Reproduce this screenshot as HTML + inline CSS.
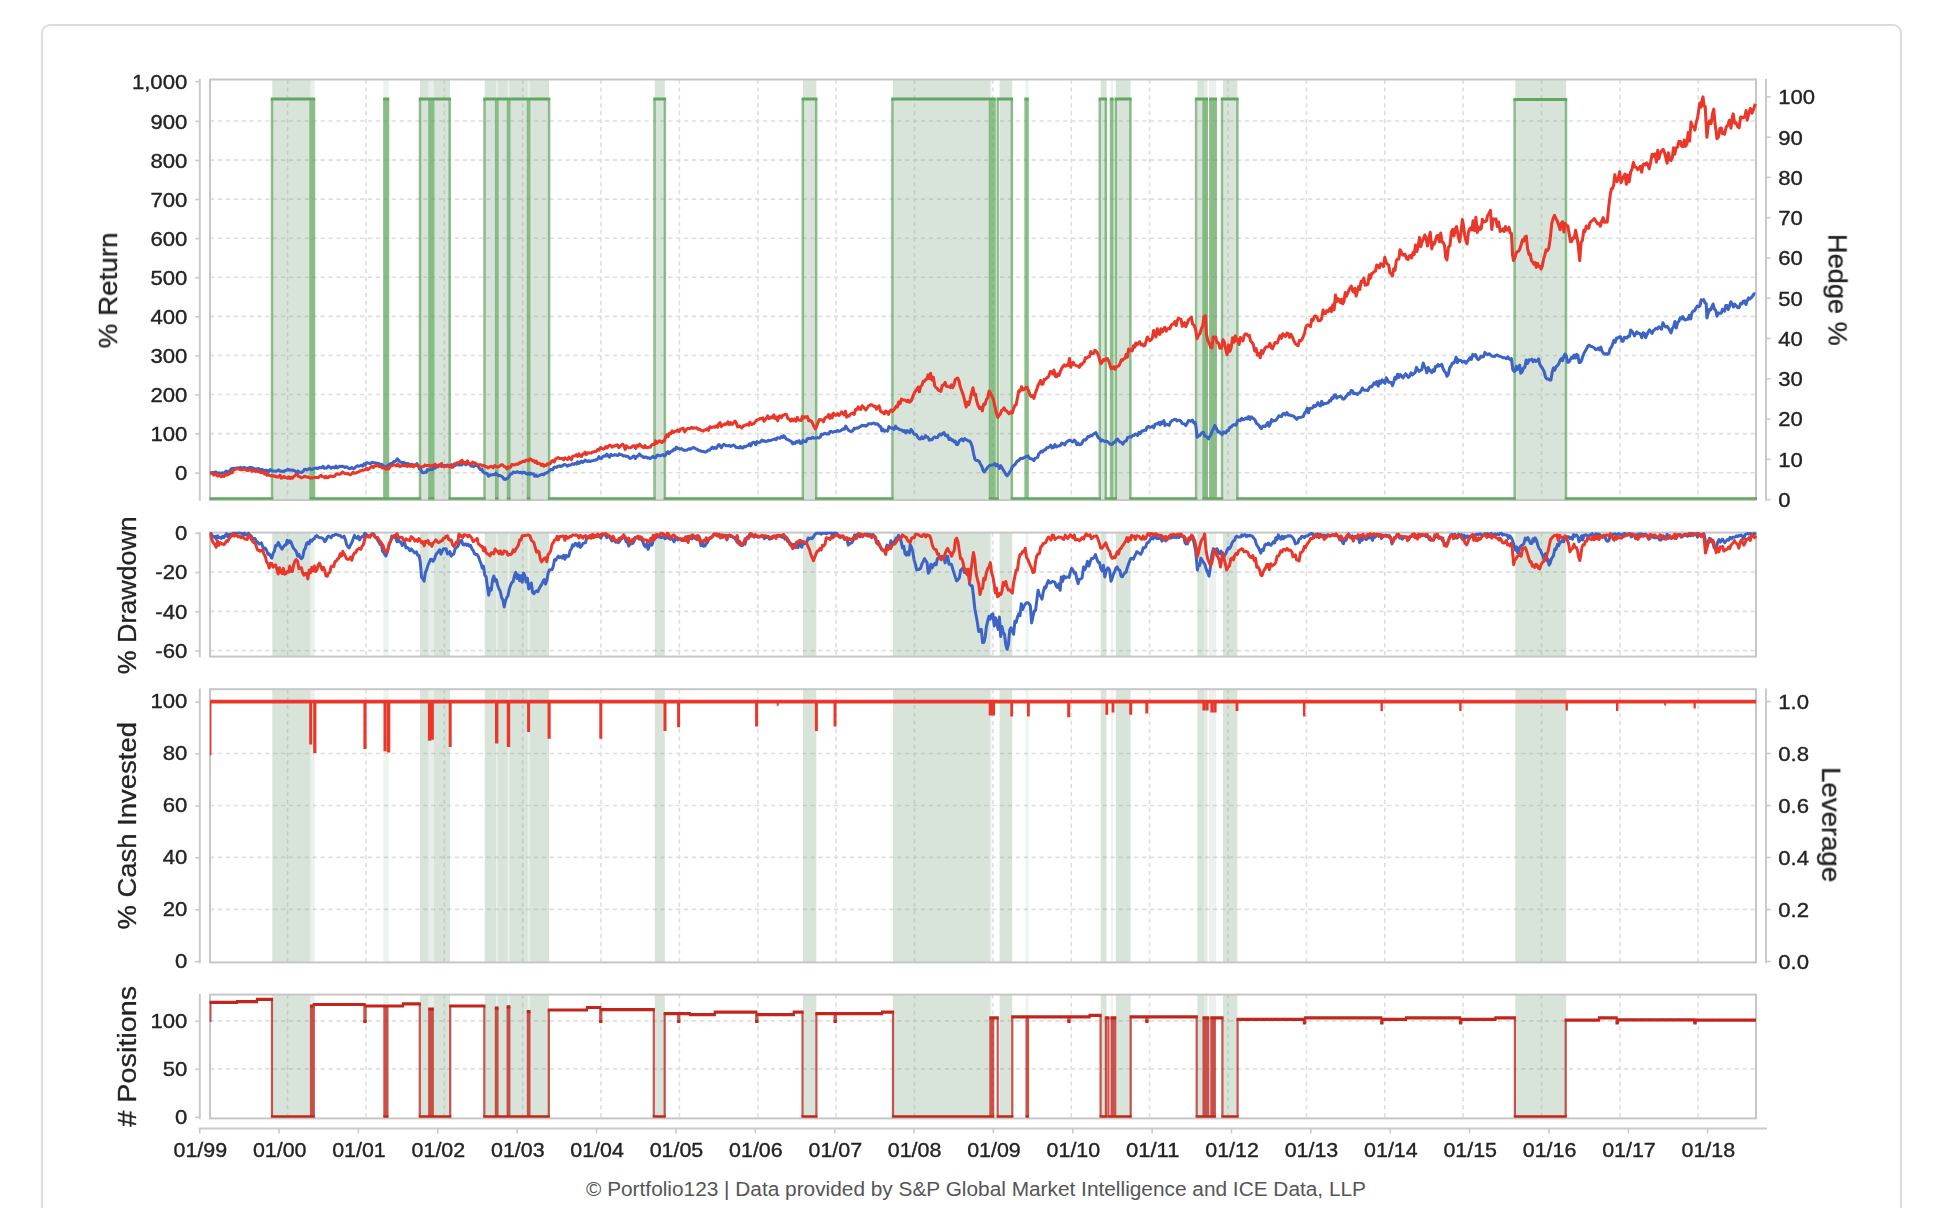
<!DOCTYPE html>
<html><head><meta charset="utf-8"><title>Portfolio123 chart</title>
<style>
html,body{margin:0;padding:0;background:#fff;}
body{width:1936px;height:1208px;overflow:hidden;position:relative;font-family:"Liberation Sans",sans-serif;}
.card{position:absolute;left:40.5px;top:23.5px;width:1857px;height:1300px;border:2px solid #dcdcdc;border-radius:9px;background:#fff;box-sizing:content-box;}
</style></head><body>
<div class="card"></div>
<svg width="1936" height="1208" viewBox="0 0 1936 1208" style="position:absolute;left:0;top:0">
<defs>
<clipPath id="cp0"><rect x="209.5" y="78.5" width="1547.5" height="422.5"/></clipPath>
<clipPath id="cp1"><rect x="209.5" y="531.6" width="1547.5" height="126"/></clipPath>
<clipPath id="cp2"><rect x="209.5" y="688.2" width="1547.5" height="275.2"/></clipPath>
<clipPath id="cp3"><rect x="209.5" y="993.6" width="1547.5" height="125.8"/></clipPath>
<filter id="soft" x="-2%" y="-2%" width="104%" height="104%"><feGaussianBlur stdDeviation="0.75"/></filter>
</defs>
<g filter="url(#soft)">
<g clip-path="url(#cp0)" stroke="#dedede" stroke-width="1.6" stroke-dasharray="4.2 3.7" fill="none">
<path d="M287.6 79.5 V500"/>
<path d="M365.9 79.5 V500"/>
<path d="M444.3 79.5 V500"/>
<path d="M522.7 79.5 V500"/>
<path d="M601 79.5 V500"/>
<path d="M679.4 79.5 V500"/>
<path d="M757.8 79.5 V500"/>
<path d="M836.2 79.5 V500"/>
<path d="M914.5 79.5 V500"/>
<path d="M992.9 79.5 V500"/>
<path d="M1071.3 79.5 V500"/>
<path d="M1149.6 79.5 V500"/>
<path d="M1228 79.5 V500"/>
<path d="M1306.4 79.5 V500"/>
<path d="M1384.8 79.5 V500"/>
<path d="M1463.1 79.5 V500"/>
<path d="M1541.5 79.5 V500"/>
<path d="M1619.9 79.5 V500"/>
<path d="M1698.2 79.5 V500"/>
<path d="M210 472.7 H1756"/>
<path d="M210 433.6 H1756"/>
<path d="M210 394.5 H1756"/>
<path d="M210 355.5 H1756"/>
<path d="M210 316.4 H1756"/>
<path d="M210 277.3 H1756"/>
<path d="M210 238.2 H1756"/>
<path d="M210 199.1 H1756"/>
<path d="M210 160.1 H1756"/>
<path d="M210 121 H1756"/>
</g>
<g clip-path="url(#cp1)" stroke="#dedede" stroke-width="1.6" stroke-dasharray="4.2 3.7" fill="none">
<path d="M287.6 532.6 V656.6"/>
<path d="M365.9 532.6 V656.6"/>
<path d="M444.3 532.6 V656.6"/>
<path d="M522.7 532.6 V656.6"/>
<path d="M601 532.6 V656.6"/>
<path d="M679.4 532.6 V656.6"/>
<path d="M757.8 532.6 V656.6"/>
<path d="M836.2 532.6 V656.6"/>
<path d="M914.5 532.6 V656.6"/>
<path d="M992.9 532.6 V656.6"/>
<path d="M1071.3 532.6 V656.6"/>
<path d="M1149.6 532.6 V656.6"/>
<path d="M1228 532.6 V656.6"/>
<path d="M1306.4 532.6 V656.6"/>
<path d="M1384.8 532.6 V656.6"/>
<path d="M1463.1 532.6 V656.6"/>
<path d="M1541.5 532.6 V656.6"/>
<path d="M1619.9 532.6 V656.6"/>
<path d="M1698.2 532.6 V656.6"/>
<path d="M210 572.1 H1756"/>
<path d="M210 611.4 H1756"/>
<path d="M210 650.6 H1756"/>
</g>
<g clip-path="url(#cp2)" stroke="#dedede" stroke-width="1.6" stroke-dasharray="4.2 3.7" fill="none">
<path d="M287.6 689.2 V962.4"/>
<path d="M365.9 689.2 V962.4"/>
<path d="M444.3 689.2 V962.4"/>
<path d="M522.7 689.2 V962.4"/>
<path d="M601 689.2 V962.4"/>
<path d="M679.4 689.2 V962.4"/>
<path d="M757.8 689.2 V962.4"/>
<path d="M836.2 689.2 V962.4"/>
<path d="M914.5 689.2 V962.4"/>
<path d="M992.9 689.2 V962.4"/>
<path d="M1071.3 689.2 V962.4"/>
<path d="M1149.6 689.2 V962.4"/>
<path d="M1228 689.2 V962.4"/>
<path d="M1306.4 689.2 V962.4"/>
<path d="M1384.8 689.2 V962.4"/>
<path d="M1463.1 689.2 V962.4"/>
<path d="M1541.5 689.2 V962.4"/>
<path d="M1619.9 689.2 V962.4"/>
<path d="M1698.2 689.2 V962.4"/>
<path d="M210 909.4 H1756"/>
<path d="M210 857.4 H1756"/>
<path d="M210 805.5 H1756"/>
<path d="M210 753.5 H1756"/>
<path d="M210 701.6 H1756"/>
</g>
<g clip-path="url(#cp3)" stroke="#dedede" stroke-width="1.6" stroke-dasharray="4.2 3.7" fill="none">
<path d="M287.6 994.6 V1118.4"/>
<path d="M365.9 994.6 V1118.4"/>
<path d="M444.3 994.6 V1118.4"/>
<path d="M522.7 994.6 V1118.4"/>
<path d="M601 994.6 V1118.4"/>
<path d="M679.4 994.6 V1118.4"/>
<path d="M757.8 994.6 V1118.4"/>
<path d="M836.2 994.6 V1118.4"/>
<path d="M914.5 994.6 V1118.4"/>
<path d="M992.9 994.6 V1118.4"/>
<path d="M1071.3 994.6 V1118.4"/>
<path d="M1149.6 994.6 V1118.4"/>
<path d="M1228 994.6 V1118.4"/>
<path d="M1306.4 994.6 V1118.4"/>
<path d="M1384.8 994.6 V1118.4"/>
<path d="M1463.1 994.6 V1118.4"/>
<path d="M1541.5 994.6 V1118.4"/>
<path d="M1619.9 994.6 V1118.4"/>
<path d="M1698.2 994.6 V1118.4"/>
<path d="M210 1068.9 H1756"/>
<path d="M210 1020.9 H1756"/>
</g>
<g clip-path="url(#cp0)" fill="#7ea286">
<rect x="272.3" y="79.5" width="38" height="420.5" fill-opacity="0.300"/>
<rect x="310.3" y="79.5" width="4.3" height="420.5" fill-opacity="0.165"/>
<rect x="383.3" y="79.5" width="5.4" height="420.5" fill-opacity="0.135"/>
<rect x="420" y="79.5" width="8.3" height="420.5" fill-opacity="0.300"/>
<rect x="428.3" y="79.5" width="5.7" height="420.5" fill-opacity="0.180"/>
<rect x="434" y="79.5" width="16" height="420.5" fill-opacity="0.300"/>
<rect x="484.8" y="79.5" width="11.2" height="420.5" fill-opacity="0.300"/>
<rect x="496" y="79.5" width="1.6" height="420.5" fill-opacity="0.165"/>
<rect x="497.6" y="79.5" width="10.2" height="420.5" fill-opacity="0.300"/>
<rect x="507.8" y="79.5" width="1.6" height="420.5" fill-opacity="0.165"/>
<rect x="509.4" y="79.5" width="18.4" height="420.5" fill-opacity="0.300"/>
<rect x="527.8" y="79.5" width="1.8" height="420.5" fill-opacity="0.165"/>
<rect x="529.6" y="79.5" width="19.5" height="420.5" fill-opacity="0.300"/>
<rect x="654.8" y="79.5" width="10" height="420.5" fill-opacity="0.300"/>
<rect x="803" y="79.5" width="13.3" height="420.5" fill-opacity="0.300"/>
<rect x="893" y="79.5" width="97" height="420.5" fill-opacity="0.300"/>
<rect x="990" y="79.5" width="1.6" height="420.5" fill-opacity="0.150"/>
<rect x="999.6" y="79.5" width="12.6" height="420.5" fill-opacity="0.300"/>
<rect x="1025.4" y="79.5" width="3.1" height="420.5" fill-opacity="0.135"/>
<rect x="1100.7" y="79.5" width="5.8" height="420.5" fill-opacity="0.300"/>
<rect x="1110.6" y="79.5" width="2.4" height="420.5" fill-opacity="0.120"/>
<rect x="1115.8" y="79.5" width="14.8" height="420.5" fill-opacity="0.300"/>
<rect x="1197.3" y="79.5" width="6.7" height="420.5" fill-opacity="0.300"/>
<rect x="1204" y="79.5" width="3.5" height="420.5" fill-opacity="0.210"/>
<rect x="1209" y="79.5" width="7.2" height="420.5" fill-opacity="0.150"/>
<rect x="1223" y="79.5" width="14.3" height="420.5" fill-opacity="0.300"/>
<rect x="1515.3" y="79.5" width="50.9" height="420.5" fill-opacity="0.300"/>
</g>
<g clip-path="url(#cp1)" fill="#7ea286">
<rect x="272.3" y="532.6" width="38" height="124" fill-opacity="0.300"/>
<rect x="310.3" y="532.6" width="4.3" height="124" fill-opacity="0.165"/>
<rect x="383.3" y="532.6" width="5.4" height="124" fill-opacity="0.135"/>
<rect x="420" y="532.6" width="8.3" height="124" fill-opacity="0.300"/>
<rect x="428.3" y="532.6" width="5.7" height="124" fill-opacity="0.180"/>
<rect x="434" y="532.6" width="16" height="124" fill-opacity="0.300"/>
<rect x="484.8" y="532.6" width="11.2" height="124" fill-opacity="0.300"/>
<rect x="496" y="532.6" width="1.6" height="124" fill-opacity="0.165"/>
<rect x="497.6" y="532.6" width="10.2" height="124" fill-opacity="0.300"/>
<rect x="507.8" y="532.6" width="1.6" height="124" fill-opacity="0.165"/>
<rect x="509.4" y="532.6" width="18.4" height="124" fill-opacity="0.300"/>
<rect x="527.8" y="532.6" width="1.8" height="124" fill-opacity="0.165"/>
<rect x="529.6" y="532.6" width="19.5" height="124" fill-opacity="0.300"/>
<rect x="654.8" y="532.6" width="10" height="124" fill-opacity="0.300"/>
<rect x="803" y="532.6" width="13.3" height="124" fill-opacity="0.300"/>
<rect x="893" y="532.6" width="97" height="124" fill-opacity="0.300"/>
<rect x="990" y="532.6" width="1.6" height="124" fill-opacity="0.150"/>
<rect x="999.6" y="532.6" width="12.6" height="124" fill-opacity="0.300"/>
<rect x="1025.4" y="532.6" width="3.1" height="124" fill-opacity="0.135"/>
<rect x="1100.7" y="532.6" width="5.8" height="124" fill-opacity="0.300"/>
<rect x="1110.6" y="532.6" width="2.4" height="124" fill-opacity="0.120"/>
<rect x="1115.8" y="532.6" width="14.8" height="124" fill-opacity="0.300"/>
<rect x="1197.3" y="532.6" width="6.7" height="124" fill-opacity="0.300"/>
<rect x="1204" y="532.6" width="3.5" height="124" fill-opacity="0.210"/>
<rect x="1209" y="532.6" width="7.2" height="124" fill-opacity="0.150"/>
<rect x="1223" y="532.6" width="14.3" height="124" fill-opacity="0.300"/>
<rect x="1515.3" y="532.6" width="50.9" height="124" fill-opacity="0.300"/>
</g>
<g clip-path="url(#cp2)" fill="#7ea286">
<rect x="272.3" y="689.2" width="38" height="273.2" fill-opacity="0.300"/>
<rect x="310.3" y="689.2" width="4.3" height="273.2" fill-opacity="0.165"/>
<rect x="383.3" y="689.2" width="5.4" height="273.2" fill-opacity="0.135"/>
<rect x="420" y="689.2" width="8.3" height="273.2" fill-opacity="0.300"/>
<rect x="428.3" y="689.2" width="5.7" height="273.2" fill-opacity="0.180"/>
<rect x="434" y="689.2" width="16" height="273.2" fill-opacity="0.300"/>
<rect x="484.8" y="689.2" width="11.2" height="273.2" fill-opacity="0.300"/>
<rect x="496" y="689.2" width="1.6" height="273.2" fill-opacity="0.165"/>
<rect x="497.6" y="689.2" width="10.2" height="273.2" fill-opacity="0.300"/>
<rect x="507.8" y="689.2" width="1.6" height="273.2" fill-opacity="0.165"/>
<rect x="509.4" y="689.2" width="18.4" height="273.2" fill-opacity="0.300"/>
<rect x="527.8" y="689.2" width="1.8" height="273.2" fill-opacity="0.165"/>
<rect x="529.6" y="689.2" width="19.5" height="273.2" fill-opacity="0.300"/>
<rect x="654.8" y="689.2" width="10" height="273.2" fill-opacity="0.300"/>
<rect x="803" y="689.2" width="13.3" height="273.2" fill-opacity="0.300"/>
<rect x="893" y="689.2" width="97" height="273.2" fill-opacity="0.300"/>
<rect x="990" y="689.2" width="1.6" height="273.2" fill-opacity="0.150"/>
<rect x="999.6" y="689.2" width="12.6" height="273.2" fill-opacity="0.300"/>
<rect x="1025.4" y="689.2" width="3.1" height="273.2" fill-opacity="0.135"/>
<rect x="1100.7" y="689.2" width="5.8" height="273.2" fill-opacity="0.300"/>
<rect x="1110.6" y="689.2" width="2.4" height="273.2" fill-opacity="0.120"/>
<rect x="1115.8" y="689.2" width="14.8" height="273.2" fill-opacity="0.300"/>
<rect x="1197.3" y="689.2" width="6.7" height="273.2" fill-opacity="0.300"/>
<rect x="1204" y="689.2" width="3.5" height="273.2" fill-opacity="0.210"/>
<rect x="1209" y="689.2" width="7.2" height="273.2" fill-opacity="0.150"/>
<rect x="1223" y="689.2" width="14.3" height="273.2" fill-opacity="0.300"/>
<rect x="1515.3" y="689.2" width="50.9" height="273.2" fill-opacity="0.300"/>
</g>
<g clip-path="url(#cp3)" fill="#7ea286">
<rect x="272.3" y="994.6" width="38" height="123.8" fill-opacity="0.300"/>
<rect x="310.3" y="994.6" width="4.3" height="123.8" fill-opacity="0.165"/>
<rect x="383.3" y="994.6" width="5.4" height="123.8" fill-opacity="0.135"/>
<rect x="420" y="994.6" width="8.3" height="123.8" fill-opacity="0.300"/>
<rect x="428.3" y="994.6" width="5.7" height="123.8" fill-opacity="0.180"/>
<rect x="434" y="994.6" width="16" height="123.8" fill-opacity="0.300"/>
<rect x="484.8" y="994.6" width="11.2" height="123.8" fill-opacity="0.300"/>
<rect x="496" y="994.6" width="1.6" height="123.8" fill-opacity="0.165"/>
<rect x="497.6" y="994.6" width="10.2" height="123.8" fill-opacity="0.300"/>
<rect x="507.8" y="994.6" width="1.6" height="123.8" fill-opacity="0.165"/>
<rect x="509.4" y="994.6" width="18.4" height="123.8" fill-opacity="0.300"/>
<rect x="527.8" y="994.6" width="1.8" height="123.8" fill-opacity="0.165"/>
<rect x="529.6" y="994.6" width="19.5" height="123.8" fill-opacity="0.300"/>
<rect x="654.8" y="994.6" width="10" height="123.8" fill-opacity="0.300"/>
<rect x="803" y="994.6" width="13.3" height="123.8" fill-opacity="0.300"/>
<rect x="893" y="994.6" width="97" height="123.8" fill-opacity="0.300"/>
<rect x="990" y="994.6" width="1.6" height="123.8" fill-opacity="0.150"/>
<rect x="999.6" y="994.6" width="12.6" height="123.8" fill-opacity="0.300"/>
<rect x="1025.4" y="994.6" width="3.1" height="123.8" fill-opacity="0.135"/>
<rect x="1100.7" y="994.6" width="5.8" height="123.8" fill-opacity="0.300"/>
<rect x="1110.6" y="994.6" width="2.4" height="123.8" fill-opacity="0.120"/>
<rect x="1115.8" y="994.6" width="14.8" height="123.8" fill-opacity="0.300"/>
<rect x="1197.3" y="994.6" width="6.7" height="123.8" fill-opacity="0.300"/>
<rect x="1204" y="994.6" width="3.5" height="123.8" fill-opacity="0.210"/>
<rect x="1209" y="994.6" width="7.2" height="123.8" fill-opacity="0.150"/>
<rect x="1223" y="994.6" width="14.3" height="123.8" fill-opacity="0.300"/>
<rect x="1515.3" y="994.6" width="50.9" height="123.8" fill-opacity="0.300"/>
</g>
<rect x="210" y="79.5" width="1546" height="420.5" fill="none" stroke="#c6c6c6" stroke-width="2"/>
<rect x="210" y="532.6" width="1546" height="124" fill="none" stroke="#c6c6c6" stroke-width="2"/>
<rect x="210" y="689.2" width="1546" height="273.2" fill="none" stroke="#c6c6c6" stroke-width="2"/>
<rect x="210" y="994.6" width="1546" height="123.8" fill="none" stroke="#c6c6c6" stroke-width="2"/>
<g clip-path="url(#cp0)" fill="none" stroke-linejoin="miter">
<path d="M272 498.4 V98.9 M310.6 98.9 V498.4 M312.4 498.4 V98.9 M314 98.9 V498.4 M384.4 498.4 V98.9 M385.6 98.9 V498.4 M386.8 498.4 V98.9 M388 98.9 V498.4 M420 498.4 V98.9 M429.4 98.9 V498.4 M430.6 498.4 V98.9 M431.8 98.9 V498.4 M433.2 498.4 V98.9 M449.7 98.9 V498.4 M484.5 498.4 V98.9 M496.2 98.9 V498.4 M497.4 498.4 V98.9 M508 98.9 V498.4 M509.3 498.4 V98.9 M528 98.9 V498.4 M529.2 498.4 V98.9 M549.1 98.9 V498.4 M654.5 498.4 V98.9 M664.9 98.9 V498.4 M802.8 498.4 V98.9 M816.2 98.9 V498.4 M892.4 498.4 V98.9 M990 98.9 V498.4 M991.2 498.4 V98.9 M992.4 98.9 V498.4 M993.6 498.4 V98.9 M994.6 98.9 V498.4 M997.8 498.4 V98.9 M1011.9 98.9 V498.4 M1025.6 498.4 V98.9 M1027.6 98.9 V498.4 M1099.8 498.4 V98.9 M1105.8 98.9 V498.4 M1111 498.4 V98.9 M1112.4 98.9 V498.4 M1115.8 498.4 V98.9 M1130.4 98.9 V498.4 M1196.1 498.4 V98.9 M1203.6 98.9 V498.4 M1205.2 498.4 V98.9 M1206.8 98.9 V498.4 M1210.4 498.4 V98.9 M1212 98.9 V498.4 M1213.8 498.4 V98.9 M1215.8 98.9 V498.4 M1222 498.4 V98.9 M1237.4 98.9 V498.4 M1514.6 498.4 V99.6 M1566 99.6 V498.4" stroke="#62a760" stroke-width="2.5" stroke-opacity="0.72"/>
<path d="M208.8 498.4 H273.2 M309.4 498.4 H313.6 M312.8 498.4 H385.6 M384.4 498.4 H388 M386.8 498.4 H421.2 M428.2 498.4 H431.8 M430.6 498.4 H434.4 M448.5 498.4 H485.7 M495 498.4 H498.6 M506.8 498.4 H510.5 M526.8 498.4 H530.4 M547.9 498.4 H655.7 M663.7 498.4 H804 M815 498.4 H893.6 M988.8 498.4 H992.4 M991.2 498.4 H994.8 M993.4 498.4 H999 M1010.7 498.4 H1026.8 M1026.4 498.4 H1101 M1104.6 498.4 H1112.2 M1111.2 498.4 H1117 M1129.2 498.4 H1197.3 M1202.4 498.4 H1206.4 M1205.6 498.4 H1211.6 M1210.8 498.4 H1215 M1214.6 498.4 H1223.2 M1236.2 498.4 H1515.8 M1564.8 498.4 H1757.2" stroke="#62a760" stroke-width="2.5"/>
<path d="M270.8 98.9 H311.8 M311.2 98.9 H315.2 M383.2 98.9 H386.8 M385.6 98.9 H389.2 M418.8 98.9 H430.6 M429.4 98.9 H433 M432 98.9 H450.9 M483.3 98.9 H497.4 M496.2 98.9 H509.2 M508.1 98.9 H529.2 M528 98.9 H550.3 M653.3 98.9 H666.1 M801.6 98.9 H817.4 M891.2 98.9 H991.2 M990 98.9 H993.6 M992.4 98.9 H995.8 M996.6 98.9 H1013.1 M1024.4 98.9 H1028.8 M1098.6 98.9 H1107 M1109.8 98.9 H1113.6 M1114.6 98.9 H1131.6 M1194.9 98.9 H1204.8 M1204 98.9 H1208 M1209.2 98.9 H1213.2 M1212.6 98.9 H1217 M1220.8 98.9 H1238.6 M1513.4 99.6 H1567.2" stroke="#62a760" stroke-width="3.0"/>
<path d="M210 472.5 L211.3 472.9 L212.7 472.5 L214 472.4 L215.4 472 L216.7 472.5 L218.1 473.3 L219.4 472.9 L220.8 473.3 L222.1 472.8 L223.5 472.9 L224.8 472.6 L226.1 471 L227.4 472.1 L228.7 471.4 L230 470.9 L231.2 468.9 L232.5 468.3 L233.8 468.4 L235.1 468.2 L236.4 468.1 L237.7 467.9 L239 468.3 L240.4 467.4 L241.7 468.1 L243 468.1 L244.3 467.3 L245.6 468.9 L247 468.1 L248.3 468.5 L249.6 467.4 L250.9 467.3 L252.1 467.8 L253.4 468.2 L254.6 469 L255.9 468.9 L257.2 468.7 L258.4 468.6 L259.7 469.1 L261 470.5 L262.2 469.4 L263.5 470.3 L264.7 470.7 L266 470.2 L267.4 470.7 L268.8 471.7 L270.2 469.5 L271.6 470.8 L273 471 L274.4 471 L275.8 471.4 L277.1 470.9 L278.5 469.9 L279.8 471.3 L281.2 471.1 L282.5 471.2 L283.9 471.4 L285.2 470.6 L286.6 470.3 L287.9 469.2 L289.3 470.1 L290.5 469.9 L291.8 470.3 L293 470.1 L294.2 470.7 L295.5 471.3 L296.7 472.8 L298 470.9 L299.2 472.3 L300.5 472.2 L301.8 472.5 L303.2 471.4 L304.5 469.2 L305.8 469.4 L307.1 470 L308.4 469 L309.8 468.4 L311.1 469.6 L312.4 469.4 L313.7 468.5 L315 468.3 L316.4 468.1 L317.7 468.7 L319 467.5 L320.3 467.7 L321.6 467.7 L323 466.3 L324.3 468.3 L325.6 468.1 L326.9 467.9 L328.2 466.1 L329.6 467.1 L330.9 468.2 L332.2 467.2 L333.4 467.3 L334.7 467.9 L335.9 466.1 L337.1 468 L338.4 467 L339.6 466.3 L340.9 466.4 L342.1 466.2 L343.5 466.5 L344.9 467.6 L346.2 466.7 L347.6 467.3 L349 468.7 L350.4 468.4 L351.8 467.4 L353.2 468.4 L354.5 468.4 L355.9 466.7 L357.3 465.7 L358.7 466.3 L360 465.8 L361.3 465.2 L362.7 466.1 L364 463.9 L365.3 465.1 L366.6 462.8 L367.9 462.8 L369.3 463.4 L370.6 463.4 L371.9 462.3 L373.1 462.6 L374.4 462.8 L375.6 463 L376.9 463.6 L378.1 463.3 L379.3 464 L380.6 464.5 L381.8 464.3 L383.2 465.7 L384.6 466.4 L386 467.3 L387.2 466.2 L388.5 464.9 L389.7 464.2 L390.9 463.6 L392.2 463.6 L393.4 461.8 L394.7 461.6 L395.9 461 L397.2 458.9 L398.6 460.4 L399.9 461.8 L401.2 462.3 L402.6 462.6 L403.9 462.4 L405.3 463.6 L406.6 463.6 L407.9 463.4 L409.2 465.9 L410.5 464.6 L411.8 464.2 L413 464.8 L414.3 465 L415.6 465.4 L416.9 463.7 L418.2 465.9 L419.6 468.9 L420.9 469.6 L422.3 472.6 L423.6 472.8 L424.9 472.2 L426.2 472.2 L427.5 469.6 L428.8 470 L430.1 469.5 L431.4 469.5 L432.7 469.4 L434 466.1 L435.4 468.1 L436.7 465.6 L438 466.2 L439.2 464.8 L440.5 465.9 L441.7 466.5 L442.9 465.4 L444.2 465.6 L445.4 465.9 L446.7 465.3 L447.9 465.1 L449.2 466.2 L450.5 465.7 L451.7 464.7 L453 466.9 L454.3 463.9 L455.6 465.4 L456.8 464.5 L458.1 464.7 L459.4 465.1 L460.7 464.6 L461.9 464.9 L463.2 463.2 L464.5 463.9 L465.8 464.9 L467.1 463.9 L468.5 464.1 L469.8 463.9 L471.1 466.1 L472.4 465.9 L473.7 466.6 L475.1 465 L476.4 465.8 L477.7 465.7 L479 467.8 L480.4 469.6 L481.7 469.1 L483 472 L484.4 472.8 L485.7 473.3 L487.1 473.4 L488.4 476.2 L489.6 475.4 L490.9 474.7 L492.1 474.9 L493.4 474.5 L494.6 474.8 L495.9 473.2 L497.3 474.8 L498.6 475.6 L500 475.6 L501.3 476.2 L502.6 477 L503.9 479.1 L505.2 479.5 L506.5 478.5 L507.9 478.3 L509.2 476.2 L510.5 473.9 L511.8 474 L513.2 472 L514.5 472.4 L515.8 472.4 L517.1 471.8 L518.4 472.2 L519.6 472.7 L520.9 472.3 L522.2 473.1 L523.5 472.2 L524.8 472.4 L526 473.6 L527.3 474.1 L528.5 473 L529.8 474.4 L531 473.1 L532.2 474 L533.5 473.9 L534.7 476.2 L536 475.2 L537.2 476.4 L538.5 475.8 L539.8 475.3 L541.1 474.5 L542.4 474.4 L543.6 474.9 L544.9 473.3 L546.2 473.1 L547.5 472.4 L548.8 471.3 L550.1 469.8 L551.4 469.5 L552.7 469.8 L554 467.2 L555.3 467.1 L556.6 467.5 L557.9 466.2 L559.3 465.9 L560.6 466.5 L562 465.9 L563.4 464.9 L564.7 464.5 L566.1 465.1 L567.5 466.2 L568.8 465.1 L570.2 465.2 L571.4 464.5 L572.7 463.7 L573.9 464.4 L575.2 463.3 L576.4 464.1 L577.6 461.8 L578.9 463.5 L580.1 462.4 L581.4 461.1 L582.6 462.5 L583.8 461.8 L585.1 460.1 L586.3 460.9 L587.6 461.5 L588.8 460.7 L590 461.4 L591.3 461.1 L592.5 460.8 L593.8 460.3 L595 460.2 L596.3 459.8 L597.6 459.1 L598.9 456.6 L600.2 458.5 L601.5 458.3 L602.8 456.5 L604.1 455.8 L605.4 456.3 L606.8 454.1 L608.1 455.8 L609.5 457.2 L610.9 454.3 L612.2 455.4 L613.6 455.3 L615 454.6 L616.4 455.2 L617.8 455.5 L619.1 453.9 L620.5 454.6 L621.9 454.8 L623.3 456 L624.7 455.8 L626 456.3 L627.4 456.2 L628.8 457.3 L630.2 458.5 L631.5 457.8 L632.9 456.5 L634.2 456 L635.5 458.4 L636.8 456.6 L638.2 455.7 L639.5 453.9 L640.8 455.7 L642.2 456.1 L643.5 457.6 L644.8 457.1 L646.1 457.1 L647.5 458.1 L648.8 457.7 L650.2 458.6 L651.5 457.6 L652.9 456.4 L654.3 457.6 L655.6 457.6 L657 455.3 L658.2 455.1 L659.4 455.8 L660.6 455.7 L661.9 455.1 L663.1 454.6 L664.3 455.9 L665.5 455.4 L666.7 452.7 L667.9 451.7 L669.1 453.6 L670.3 452.2 L671.5 451.1 L672.7 450.9 L673.9 449.1 L675.1 449.7 L676.3 447.2 L677.5 448.2 L678.7 448.5 L679.9 449.3 L681.2 448.5 L682.4 449.3 L683.7 450.2 L684.9 450.2 L686.3 450.3 L687.7 449.6 L689 448.7 L690.4 449.3 L691.8 448.3 L693.2 447.6 L694.5 447.8 L695.8 448.9 L697.1 449.3 L698.4 450.1 L699.6 450.5 L700.9 451.1 L702.2 451.4 L703.5 451.6 L704.8 451.9 L706 452 L707.3 451 L708.6 450 L709.8 450.1 L711.1 448.4 L712.4 447.1 L713.6 448.4 L714.9 447.6 L716.2 448.3 L717.5 446.3 L718.8 444.5 L720 445.7 L721.3 447.8 L722.6 445.7 L723.9 444.4 L725.2 445.1 L726.6 445.8 L728 445.7 L729.4 445.4 L730.7 446.5 L732.1 445.7 L733.5 445 L734.9 446 L736.2 447.5 L737.6 447.4 L739 447.9 L740.3 446.4 L741.7 447.9 L743 447.9 L744.3 446.3 L745.6 446.9 L746.9 445.9 L748.2 445.5 L749.5 443.8 L750.8 445.8 L752.1 443.1 L753.3 442.3 L754.6 442.4 L755.8 444.7 L757.1 441.6 L758.3 442.6 L759.5 442.5 L760.8 441.4 L762 440 L763.3 441.2 L764.5 440.9 L765.8 441.7 L767.1 441.2 L768.4 440.2 L769.6 440.8 L770.9 440.3 L772.2 439.8 L773.5 439.4 L774.8 438.9 L776.1 439.6 L777.4 437.7 L778.7 437.9 L780 438.3 L781.2 436.6 L782.5 437.5 L783.8 435.7 L785.1 437.3 L786.3 439 L787.6 439.8 L788.8 440.1 L790.1 440.8 L791.3 441.4 L792.6 443.8 L793.9 442.6 L795.2 443.3 L796.5 441.4 L797.8 442.2 L799.1 440.7 L800.4 443.4 L801.7 443 L803.1 440.3 L804.4 441.6 L805.8 441.8 L807.2 438.9 L808.5 438.3 L809.9 438.6 L811.3 438.5 L812.6 437.2 L814 438.1 L815.2 437.9 L816.5 437.9 L817.7 437.6 L819 438 L820.2 437.3 L821.4 434.3 L822.7 434.7 L823.9 433.7 L825.2 433.3 L826.4 434 L827.6 433.7 L828.9 433.9 L830.1 431.4 L831.4 431.4 L832.6 432.4 L833.8 431.9 L835.1 431.5 L836.3 431.5 L837.6 430.4 L838.8 431.2 L840.2 430.9 L841.6 430.1 L843 429.1 L844.3 429.3 L845.7 426.1 L847.1 428.4 L848.7 430.4 L850.2 431.3 L851.5 431.4 L852.9 430.6 L854.2 428.2 L855.5 428.7 L856.8 427.9 L858.2 428 L859.5 427 L860.8 426.4 L862.1 425.2 L863.4 425.7 L864.6 425.5 L865.9 426.1 L867.2 425.3 L868.5 423.8 L869.8 423.7 L871.2 423.9 L872.6 423.4 L874 423 L875.3 424.2 L876.7 423.7 L878.1 424.3 L879.3 426.2 L880.6 426.5 L881.8 430.9 L883.1 429.2 L884.3 431.3 L886.2 430.5 L887.5 431.1 L888.9 426.6 L890.2 427.7 L891.5 428.2 L892.8 428 L894.2 429.3 L895.5 426.1 L896.8 428.3 L898.1 428.5 L899.4 429.5 L900.6 429.9 L901.9 430 L903.2 431.5 L904.5 430.6 L905.8 433 L907.1 430.7 L908.4 431.3 L909.7 432.6 L911 429.4 L912.4 431.1 L913.8 433.9 L915.1 434.2 L916.5 434.9 L917.9 437.5 L919.3 439 L920.5 438.9 L921.8 436.8 L923 438.7 L924.3 438 L925.5 435.7 L926.8 437 L928 437.3 L929.3 440.2 L930.6 439.6 L931.9 439.8 L933.3 437.9 L934.6 436.9 L936 437.7 L937.3 437.6 L938.6 435.5 L940 434 L941.3 434.9 L942.7 433.3 L944 432.7 L945.2 435.3 L946.5 436 L947.7 435.4 L949 439.5 L950.2 438.3 L951.4 440.2 L952.7 439.9 L953.9 441.6 L955.2 441.1 L956.4 444.5 L957.8 444.4 L959.2 441 L960.5 439.9 L961.9 438.9 L963.3 440.8 L964.7 438.6 L965.9 439.6 L967.2 440.1 L968.4 441.1 L969.7 441 L970.9 442.9 L972.3 447.1 L973.6 453.8 L975 459.5 L976.4 460.5 L977.8 460.6 L979.2 461.3 L980.5 464.2 L981.8 466.3 L983 470.3 L984.3 472 L985.7 470 L987.1 468.1 L988.5 466.5 L989.7 465.4 L991 465.2 L992.2 465.1 L993.5 464.6 L994.7 463.7 L995.9 465.8 L997.1 464.4 L998.3 465.7 L999.5 468.3 L1000.7 465.7 L1001.9 467.6 L1003.2 469.9 L1004.5 472 L1005.8 474.2 L1007.1 475.9 L1008.4 474.2 L1009.7 471.9 L1010.9 470.3 L1012.2 467.2 L1013.6 465.5 L1015 464.6 L1016.4 462.3 L1017.7 460.7 L1019.1 460.4 L1020.5 458.2 L1021.7 458.5 L1023 458.2 L1024.2 457.4 L1025.5 457.1 L1026.7 456.3 L1027.9 455.8 L1029.1 457.7 L1030.3 458.8 L1031.5 458.7 L1032.7 459.7 L1033.9 460.7 L1035.1 458.2 L1036.3 457.9 L1037.6 457.4 L1038.8 453.8 L1040 452.9 L1041.2 451.2 L1042.6 451.9 L1043.9 450.1 L1045.3 449.9 L1046.7 447.8 L1048 447.7 L1049.4 447 L1050.8 445.2 L1052.2 448 L1053.6 447.3 L1054.9 444.7 L1056.3 446.9 L1057.7 446 L1059.1 445.9 L1060.5 445.3 L1061.8 443 L1063.2 443.7 L1064.6 444.9 L1066 442.7 L1067.4 441.4 L1068.7 440.5 L1070.1 440.1 L1071.5 441.2 L1072.8 442 L1074.2 440 L1075.5 441.3 L1076.8 444.6 L1078.1 443.2 L1079.4 444.8 L1080.6 444.5 L1081.8 443.5 L1083 440.9 L1084.2 439.7 L1085.4 440.1 L1086.6 438.9 L1087.9 436.6 L1089.3 436.8 L1090.6 435.6 L1091.9 435.7 L1093.2 434.2 L1094.6 433.4 L1095.9 432.5 L1097.2 435.8 L1098.5 438.1 L1099.8 438.4 L1101.1 441.1 L1102.4 440.1 L1103.7 440.9 L1104.9 441.5 L1106.2 441.3 L1107.5 441.5 L1108.8 442.8 L1110.1 444.1 L1111.4 444.5 L1112.6 444 L1113.9 442.3 L1115.1 442.2 L1116.4 439.7 L1117.6 439.1 L1118.9 440.9 L1120.2 442.1 L1121.5 442.3 L1122.8 444.2 L1124 442.4 L1125.2 440.9 L1126.4 440.8 L1127.6 437.5 L1128.8 437.2 L1130 436.7 L1131.3 437.1 L1132.6 435.5 L1133.9 435.5 L1135.2 434 L1136.4 434.5 L1137.7 435.4 L1139 432.4 L1140.3 433.5 L1141.7 431 L1143.1 430.9 L1144.4 430.2 L1145.8 430.3 L1147.2 426.9 L1148.6 426.6 L1149.9 427.4 L1151.2 427 L1152.5 426.2 L1153.8 427.8 L1155 424.4 L1156.3 423.8 L1157.6 423.9 L1158.9 422.4 L1160.1 424.8 L1161.4 422 L1162.6 423.6 L1163.9 420.7 L1165.1 425.6 L1166.5 424 L1167.9 424.7 L1169.2 425.3 L1170.6 421.9 L1172 420.7 L1173.4 420 L1174.6 419.2 L1175.9 419.4 L1177.1 421 L1178.4 420.2 L1179.6 420.2 L1180.8 421 L1182.1 423.3 L1183.3 423.8 L1184.6 424.1 L1185.8 425.6 L1187.2 423.4 L1188.5 420.5 L1189.9 420.8 L1191.2 421.3 L1192.5 420.1 L1193.8 423 L1195.1 422.3 L1196.1 427.7 L1197.1 437.3 L1198.4 436 L1199.7 435.6 L1201 433.8 L1202.3 432.5 L1203.5 432.2 L1204.8 436.1 L1206 436.4 L1207.3 437.3 L1208.5 438.9 L1209.7 436.4 L1211 434.6 L1212.2 431 L1213.5 428.8 L1214.7 425.5 L1215.9 427.4 L1217.2 430 L1218.4 432.2 L1219.7 431.8 L1220.9 433.6 L1222.1 434.7 L1223.4 432 L1224.6 432.5 L1225.9 433 L1227.1 430.5 L1228.4 430.7 L1229.7 427.4 L1231 427.2 L1232.2 425.8 L1233.5 424.8 L1234.8 424.8 L1236.1 425.2 L1237.4 420.9 L1238.8 420 L1240.2 420.8 L1241.6 418.4 L1242.9 419.7 L1244.3 419.3 L1245.7 418 L1247.1 418.9 L1248.5 416.5 L1249.8 419.5 L1251.2 416.9 L1252.6 418.1 L1254 418.9 L1255.2 420.3 L1256.5 423.4 L1257.7 424.2 L1259 425.3 L1260.2 427.6 L1261.5 428.6 L1262.7 426.3 L1264 426.1 L1265.2 426.5 L1266.5 424.8 L1267.8 422.5 L1269 426.3 L1270.3 423.7 L1271.5 419.6 L1272.8 421.1 L1274 420.8 L1275.3 420.7 L1276.5 419.5 L1277.8 417.5 L1279 415.7 L1280.3 416.3 L1281.5 416.6 L1282.8 414 L1284.2 413.4 L1285.5 414.8 L1286.9 412.6 L1288.3 414.9 L1289.6 414.9 L1291 415.8 L1292.5 415.7 L1293.9 416.4 L1295.3 417.9 L1296.8 419.3 L1298.1 417.5 L1299.4 417.4 L1300.7 417.3 L1301.9 416.9 L1303.2 416.6 L1304.5 413.2 L1305.8 411.9 L1307.2 408.2 L1308.5 412.9 L1309.8 408.4 L1311.1 408.2 L1312.5 407.9 L1313.8 405.6 L1315.1 406.5 L1316.4 405.4 L1317.8 402.6 L1319.1 405.1 L1320.4 406 L1321.7 401.4 L1323 404.7 L1324.3 403.5 L1325.7 403.5 L1327 403.1 L1328.3 402.7 L1329.5 400.6 L1330.7 400.9 L1331.9 397.9 L1333.1 398.4 L1334.3 394.9 L1335.5 394.8 L1336.7 398.1 L1337.9 396.9 L1339.2 396.7 L1340.4 396 L1341.6 397.2 L1342.8 399.1 L1344.2 399 L1345.6 396.9 L1346.9 395.6 L1348.3 393.4 L1349.7 394.1 L1351.1 390.5 L1352.3 390.7 L1353.6 393.7 L1354.8 393.3 L1356.1 393.6 L1357.3 394.6 L1358.6 393 L1359.8 392.7 L1361.1 390.8 L1362.4 388 L1363.8 390 L1365.2 390.3 L1366.6 390.2 L1367.8 390.6 L1369.1 387.8 L1370.3 386.5 L1371.6 387 L1372.8 385.2 L1374.1 382.9 L1375.5 384.2 L1376.8 381.5 L1378.2 386.1 L1379.5 381.1 L1380.8 383.3 L1382.2 379.8 L1383.5 381.7 L1384.9 383.4 L1386.2 377.8 L1387.4 379.6 L1388.7 382.2 L1389.9 382.3 L1391.2 382.4 L1392.4 385.7 L1393.7 382.3 L1395 377.2 L1396.3 378.9 L1397.6 374.2 L1398.9 377.3 L1400.3 374.5 L1401.6 375.9 L1402.9 377.9 L1404.2 376.1 L1405.6 373.7 L1406.9 375.2 L1408.3 377.5 L1409.7 376.1 L1411.1 372.8 L1412.4 374.9 L1413.8 373.6 L1415.2 372.5 L1416.5 367.4 L1417.9 370 L1419.2 371.3 L1420.5 370.2 L1421.8 369.6 L1423.2 363 L1424.5 366.6 L1425.7 368.3 L1426.9 372.8 L1428.2 367.6 L1429.4 369.7 L1430.6 371.2 L1431.8 372.6 L1433 369.9 L1434.3 371.2 L1435.5 366.4 L1436.8 366.8 L1438 364.6 L1439.3 366 L1440.5 365.2 L1441.8 364.4 L1443.1 368.7 L1444.4 371.3 L1445.6 372.5 L1446.9 376.3 L1448.3 374.5 L1449.7 367.8 L1451 366 L1452.4 363.1 L1453.7 363.1 L1454.9 360.9 L1456.2 357.1 L1457.4 362.6 L1458.7 359.9 L1459.9 360.4 L1461.1 360.6 L1462.3 362.2 L1463.5 361.7 L1464.7 361.3 L1465.9 363.3 L1467.3 361.3 L1468.7 359.9 L1470.1 357.5 L1471.4 359.4 L1472.8 354.4 L1474.2 355.9 L1475.6 354.7 L1476.9 358.3 L1478.3 359.6 L1479.6 358.5 L1481 356.1 L1482.3 357 L1483.6 356.6 L1484.9 352.4 L1486.3 354 L1487.6 354.6 L1489 353.7 L1490.4 354.8 L1491.8 356.1 L1493.1 356.2 L1494.5 356.5 L1495.9 355.3 L1497.3 355 L1498.7 356.1 L1500.1 356.3 L1501.4 356.8 L1502.8 357.7 L1504.2 357.6 L1505.4 358.1 L1506.6 358.7 L1507.8 356.9 L1509 358.7 L1510.2 359.7 L1511.4 358.6 L1512.8 369.6 L1514.1 371.5 L1515.2 370.9 L1516.4 366.3 L1517.5 369.4 L1518.7 367.6 L1519.7 365.1 L1520.7 373.2 L1522.1 371.8 L1523.5 368.1 L1524.8 367.4 L1526.2 360.1 L1527.6 363.5 L1529 359.9 L1530.4 360 L1531.8 359.2 L1533.2 361.7 L1534.5 359.9 L1535.9 361.4 L1537.3 361 L1538.6 358.9 L1539.9 364.6 L1541.2 366.7 L1542.5 368.5 L1544 371.2 L1545.6 377.3 L1547 379 L1548.3 378.9 L1549.7 380 L1550.9 379.9 L1552.2 372.4 L1553.4 368 L1554.7 370.1 L1555.9 366.9 L1557.3 365.8 L1558.7 363.9 L1560.1 360.3 L1561.3 358.6 L1562.6 360.7 L1563.8 356.5 L1565.1 354 L1566.3 355.9 L1567.7 362.3 L1569 362.2 L1570.4 359.3 L1571.6 357.3 L1572.9 358.1 L1574.1 355.2 L1575.4 358 L1576.6 354.4 L1577.8 355.2 L1579.1 362.4 L1580.3 362.4 L1581.5 360.4 L1582.6 357.1 L1583.8 353.7 L1584.9 351.6 L1586.3 349.4 L1587.7 346.4 L1589.1 345 L1590.4 346.2 L1591.8 346.5 L1593.2 347.3 L1594.4 348 L1595.7 349.6 L1596.9 349.4 L1598.2 348.2 L1599.4 349.9 L1600.8 347 L1602.1 351.4 L1603.5 353.4 L1604.9 354.1 L1606.2 353.6 L1607.6 354.4 L1608.9 353.4 L1610.1 348.7 L1611.4 347.3 L1612.6 344.1 L1613.9 340.2 L1615.2 342.3 L1616.5 338.1 L1617.8 338.2 L1619.2 337 L1620.5 336.7 L1621.8 341.2 L1623.1 341.3 L1624.4 337.3 L1625.7 337.6 L1626.9 338 L1628.2 336.3 L1629.5 336.3 L1630.7 330.1 L1632 331.4 L1633.2 333.3 L1634.5 335.9 L1635.7 333.5 L1636.9 331.9 L1638.1 333.4 L1639.4 333.3 L1640.6 334.5 L1641.8 337.7 L1643.1 332.7 L1644.3 333.5 L1645.6 337.6 L1646.8 335 L1648.1 332.2 L1649.4 329.9 L1650.7 331.5 L1652 333.5 L1653.3 330.7 L1654.6 329.7 L1656 328.4 L1657.4 328.9 L1658.8 326.8 L1660.1 327.7 L1661.5 329.2 L1662.9 322.7 L1664.3 325.4 L1665.7 327 L1667 326.3 L1668.3 328 L1669.7 330.3 L1671 332.9 L1672.3 328.7 L1673.6 326.8 L1674.9 321.5 L1676.3 328 L1677.6 322.7 L1678.9 321.3 L1680.2 317.7 L1681.5 319 L1682.8 316.5 L1684.1 319.2 L1685.4 320.1 L1686.7 319.1 L1688 319.2 L1689.3 315.4 L1690.7 319 L1692 312.6 L1693.3 311 L1694.7 310.7 L1696 308 L1697.3 306 L1698.7 306.8 L1700 305.7 L1701.2 299.9 L1702.5 300.3 L1703.7 299.7 L1705 302.9 L1706.2 303.8 L1706.9 318 L1708.2 313.3 L1709.5 309.3 L1710.7 309.9 L1711.9 306.9 L1713.1 304 L1714.4 309.2 L1715.7 310.4 L1717 316.2 L1718.4 312.9 L1719.9 313.2 L1721.3 313.2 L1722.4 309.3 L1723.5 309.5 L1724.6 311.3 L1725.8 305.6 L1727.1 305.6 L1728.3 309.6 L1729.6 306 L1730.8 301.8 L1732.1 303.7 L1733.4 307 L1734.8 304.2 L1736.2 305.7 L1737.5 307.4 L1739.1 307.7 L1740.7 303.4 L1742 303.8 L1743.3 301.2 L1744.6 300.9 L1745.9 304.5 L1747.2 300.8 L1748.5 297.9 L1749.9 298.9 L1751.2 297.6 L1752.6 296.1 L1754 293.8 L1755.3 294.2" stroke="#3c63c5" stroke-width="3.05" stroke-linejoin="round"/>
<path d="M210 473.1 L211.2 473.3 L212.4 472.8 L213.7 475.1 L214.9 474.8 L216.1 473.8 L217.4 476 L218.6 475.9 L219.8 475 L221.2 476.7 L222.5 475.8 L223.9 476.5 L225.3 473.9 L226.6 475.1 L228 474.6 L229.4 473.8 L230.8 472.9 L232.2 472.7 L233.6 469.9 L235 469.2 L236.4 468.9 L237.7 468.9 L239 468.9 L240.4 469.7 L241.7 469.7 L243 469.6 L244.3 469.1 L245.6 469.3 L247 470.5 L248.3 470.4 L249.6 469.8 L250.8 469.7 L252.1 471.4 L253.3 469.9 L254.6 471 L255.8 471.6 L257 470.6 L258.3 471.7 L259.5 470.9 L260.7 472.5 L262 472.4 L263.2 471.6 L264.4 473.8 L265.7 473.2 L266.9 475.3 L268.2 474.4 L269.4 475.4 L270.7 475.8 L272 475.6 L273.4 476.2 L274.7 475.8 L276 476.9 L277.3 476.7 L278.6 477 L280 475.2 L281.3 478.1 L282.6 477.5 L283.9 476.3 L285.1 477.6 L286.4 477.8 L287.6 478.2 L288.9 476.8 L290.1 478.6 L291.4 477.4 L292.6 478.1 L293.7 476.4 L294.8 476 L295.9 474.4 L297.2 474.2 L298.5 476.4 L299.9 476.8 L301.2 477.7 L302.5 477.4 L303.7 476.9 L305 476.2 L306.2 477 L307.4 477.1 L308.7 477.1 L309.9 478.1 L311.2 478 L312.4 477.8 L313.6 477.8 L314.9 477.4 L316.1 477.4 L317.4 477.6 L318.6 477.5 L319.8 476.1 L321.1 475.4 L322.3 476.6 L323.6 476.7 L324.8 477.8 L326.1 476.3 L327.3 477.8 L328.5 477.5 L329.8 476 L331 476.1 L332.2 476.6 L333.5 476.4 L334.7 476.3 L336 474 L337.2 473.8 L338.5 474.3 L339.8 474.3 L341.2 473.4 L342.5 471.9 L343.8 472.8 L345.1 473.6 L346.4 473.8 L347.8 473.4 L349.1 474.3 L350.4 474.7 L351.8 473.6 L353.2 472.2 L354.5 473.3 L355.9 473 L357.3 472.2 L358.7 471.9 L360 470.8 L361.3 470.7 L362.7 470 L364 470.2 L365.3 469.7 L366.6 468.4 L367.9 469.7 L369.3 468.6 L370.6 467.3 L371.9 466.2 L373.3 467.5 L374.7 465.8 L376 465.9 L377.4 465.1 L378.8 466.4 L380.2 466.4 L381.6 467.3 L383.1 468 L384.6 468.3 L386 469.3 L387.3 467.5 L388.6 468.9 L389.9 467 L391.1 465.8 L392.4 465.5 L393.7 464.7 L395 465.1 L396.4 465.9 L397.8 464 L399.1 466.2 L400.5 466.4 L401.9 465.3 L403.3 465.6 L404.6 465.4 L405.8 465.5 L407.1 466.4 L408.4 465.8 L409.6 464.4 L410.9 466.3 L412.2 464.9 L413.5 466.9 L414.7 465.2 L416 465.6 L417.3 465.5 L418.5 465.8 L419.8 466.7 L421.1 467 L422.4 466.7 L423.7 466.5 L425 464.9 L426.2 465.7 L427.5 465.6 L428.8 465.2 L430.1 466.5 L431.4 465.8 L432.7 465.4 L433.9 465.1 L435.2 464.2 L436.5 466.4 L437.7 467 L439 466 L440.3 465 L441.6 463.5 L442.8 465.9 L444.1 466.7 L445.4 465.9 L446.6 466.4 L447.9 466 L449.1 466.9 L450.4 465.8 L451.6 467.4 L452.9 467 L454.2 464.6 L455.5 464.6 L456.9 462.7 L458.2 462.9 L459.5 462.3 L460.8 461.1 L462.1 460.3 L463.5 463.3 L464.8 462.4 L466.1 463.4 L467.4 460.9 L468.7 463 L470.1 464 L471.4 463.9 L472.7 462 L474.1 462.8 L475.5 463 L476.9 464.5 L478.2 465 L479.6 464.7 L481 464.7 L482.4 466 L483.8 465.3 L485.1 466.5 L486.5 466.5 L487.9 467.9 L489.3 467.1 L490.6 466.3 L492 466.8 L493.3 467.8 L494.6 465.7 L496 466.4 L497.3 466.9 L498.7 466.8 L500 465.8 L501.4 464.7 L502.8 465 L504.1 466.6 L505.5 466.9 L506.9 469 L508.3 466.9 L509.5 467.6 L510.8 466.9 L512 464.4 L513.3 464.7 L514.5 465.1 L515.7 464.2 L517 464 L518.2 464.2 L519.5 462.6 L520.7 463 L522 461.7 L523.4 461.2 L524.7 461.6 L526 460 L527.3 460.2 L528.7 460.9 L530 458.8 L531.3 459.4 L532.5 460.9 L533.8 460.5 L535 462.5 L536.3 461.1 L537.5 463.5 L538.8 463.2 L540 463.6 L541.3 465.5 L542.5 464.1 L543.8 466.1 L545 465 L546.3 465.5 L547.5 463.7 L548.8 464.2 L550.2 463.6 L551.5 461.4 L552.8 460.6 L554.1 462.1 L555.5 459.2 L556.8 458.1 L558.1 457.6 L559.5 458.6 L560.8 458.5 L562.2 458.4 L563.5 459.8 L564.8 457.9 L566.2 458.6 L567.5 459.6 L568.9 457.2 L570.2 458.5 L571.4 459.6 L572.7 456.2 L573.9 456.1 L575.2 455.8 L576.4 454.7 L577.6 456.5 L578.9 453.9 L580.1 455.9 L581.4 456.5 L582.6 454.1 L583.8 454.1 L585.1 452.2 L586.3 454.6 L587.6 452.7 L588.8 452.9 L590 452.9 L591.3 453.1 L592.5 451.9 L593.8 451.9 L595 451.4 L596.4 451.2 L597.8 449.3 L599.1 450.1 L600.5 447.5 L601.9 448.5 L603.3 449.2 L604.6 448.3 L605.9 446.5 L607.2 447.8 L608.5 446.2 L609.7 445.1 L611 445.8 L612.3 447.1 L613.6 446.1 L614.9 445.9 L616.2 445.1 L617.5 445 L618.8 447.7 L620.1 446.5 L621.4 445.2 L622.7 444 L624 445.9 L625.2 449.4 L626.5 445.7 L627.7 447.2 L629 447.8 L630.2 447.8 L631.6 447.2 L632.9 445.7 L634.3 445.7 L635.7 448.4 L637 445.3 L638.4 446.1 L639.7 444.1 L641 445.9 L642.3 446.7 L643.6 447.7 L644.9 445.6 L646.2 447.7 L647.5 447.6 L648.8 447.1 L650.2 447.2 L651.5 445 L652.9 444.5 L654.3 444.6 L655.6 440.9 L657 443.3 L658.2 441.7 L659.5 440.8 L660.7 441.5 L662 442.5 L663.2 441 L664.4 441.1 L665.7 436.5 L666.9 434.7 L668.2 436.6 L669.4 433.2 L670.8 433.7 L672.2 430.9 L673.5 432.5 L674.9 431.3 L676.3 431.3 L677.7 429.9 L679.1 431.6 L680.5 429.2 L681.9 428.8 L683.2 428.2 L684.6 431.8 L686 430 L687.4 428.6 L688.7 428.4 L690.1 428.8 L691.5 427.3 L692.8 428.3 L694.2 428.1 L695.5 428 L696.8 427.7 L698.1 429.4 L699.4 429 L700.6 430.1 L701.9 430.6 L703.2 431 L704.5 429.9 L705.8 429.7 L707.1 428.8 L708.4 430.4 L709.7 426.7 L711 427.4 L712.3 427.4 L713.6 426.9 L714.9 427.3 L716.2 425.8 L717.5 427.4 L718.8 423.6 L720 422.7 L721.3 426.6 L722.6 425.1 L723.9 424.8 L725.2 423.8 L726.6 424.3 L728 421.8 L729.4 424.7 L730.7 422.5 L732.1 424.5 L733.5 423 L734.9 421 L736.2 422.8 L737.6 427 L739 426 L740.3 426.5 L741.7 427.9 L743.1 426.3 L744.5 425.2 L745.9 425.1 L747.2 424.3 L748.6 425.3 L750 422.2 L751.3 424.5 L752.6 424 L753.9 423.4 L755.1 422.1 L756.4 420.3 L757.7 419.9 L759 419.1 L760.3 418.5 L761.5 418.8 L762.8 417.9 L764 421.2 L765.3 419.5 L766.5 418 L767.7 415.8 L769 418.5 L770.2 418 L771.5 416.9 L772.7 417.9 L773.9 414.8 L775.2 418.5 L776.4 417.2 L777.7 420.7 L778.9 416.4 L780.1 415.8 L781.4 417.8 L782.6 415.4 L783.9 415.1 L785.1 414.2 L786.5 414.5 L787.9 418.7 L789.2 419 L790.6 421.1 L792 419.1 L793.4 420.6 L794.7 418.9 L796 421.2 L797.3 417.4 L798.5 419.9 L799.8 420.3 L801.1 420.4 L802.4 416.5 L803.7 418.1 L804.9 416.8 L806.2 417.2 L807.4 416.7 L808.7 420.8 L809.9 420.3 L811.3 421.1 L812.6 423.3 L814 426.6 L815.4 429 L816.8 425.8 L818.1 422.4 L819.5 419.4 L820.9 419.7 L822.3 420.1 L823.5 421.8 L824.8 418.3 L826 417.2 L827.3 417.1 L828.5 414.6 L829.7 418.4 L831 415 L832.2 417.8 L833.5 413.2 L834.7 414.7 L836.1 415.5 L837.5 413.5 L838.9 415.5 L840.2 414 L841.6 411.8 L843 413.6 L844.2 414.9 L845.4 411.1 L846.6 417.1 L847.8 415.5 L849 416.2 L850.2 414.4 L851.5 413.4 L852.9 413.1 L854.2 414.4 L855.5 409.6 L856.8 409.6 L858.2 406.9 L859.5 409.1 L860.8 409.4 L862.1 405.7 L863.4 407.1 L864.6 408.5 L865.9 409.8 L867.2 408 L868.5 406 L869.8 405.4 L871.1 404.6 L872.5 405.1 L873.8 406.5 L875.1 406.2 L876.4 409.1 L877.8 406.9 L879.1 405.9 L880.4 411 L881.7 412 L883 412.6 L884.3 414 L885.7 411 L887.1 411.8 L888.5 414.3 L889.8 411.1 L891.2 409.8 L892.6 411.4 L893.7 409.9 L894.9 408.7 L896 406.4 L897.3 407 L898.7 402 L900 403.8 L901.4 399.1 L902.7 399.9 L904.1 400 L905.5 400.3 L906.9 401.7 L908.2 400.1 L909.6 402.2 L911 401 L912.2 398.5 L913.4 395 L914.6 392.4 L915.8 390.6 L917 389 L918.2 387.1 L919.4 391.8 L920.7 386.2 L921.9 385.5 L923.2 381.3 L924.4 381.4 L925.6 379.6 L926.9 379 L928.1 374.9 L929.4 378.6 L930.6 373.3 L932 380 L933.4 377.4 L934.8 386.1 L936 387.6 L937.2 388.5 L938.5 390.3 L939.7 390.7 L940.9 391.3 L942.3 385.3 L943.7 385 L945.1 382.4 L946.4 386.2 L947.7 386.6 L948.9 386.7 L950.2 387.6 L951.4 384.9 L952.7 387.6 L953.9 385.3 L955.2 379.7 L956.4 378.7 L957.7 378 L959 380.8 L960.3 386.9 L961.6 390.6 L963.2 394.9 L964.7 400.6 L966.1 407 L967.4 402.2 L968.8 404.7 L970.2 399.3 L971.6 392.9 L973 387.7 L974.3 395 L975.5 394.2 L976.8 401.3 L978.1 405.5 L979.5 408.3 L980.9 407.4 L982.3 410.9 L983.7 404 L985 404.5 L986.4 399.6 L987.8 397.6 L989.1 391.1 L990.5 393.1 L991.9 396.1 L993.3 399.2 L994.7 405.2 L996.2 412.5 L997.8 417.4 L999 415.2 L1000.3 414.2 L1001.5 410.6 L1002.8 409.8 L1004 407.8 L1005.3 410.2 L1006.5 410.8 L1007.8 412.2 L1009.1 413.9 L1010.7 411.9 L1012.2 413.1 L1013.5 409.1 L1014.8 405.4 L1016.1 404.9 L1017.4 398.3 L1018.8 390.8 L1020.1 391.2 L1021.5 386.7 L1022.9 390 L1024.3 389.3 L1025.7 387.6 L1027.1 387.3 L1028.4 390.3 L1029.8 394.5 L1031.2 396.6 L1032.5 395.3 L1033.9 398.3 L1035.3 393.3 L1036.7 389.6 L1038.1 385.2 L1039.3 383.4 L1040.5 380.5 L1041.7 384.3 L1042.9 384 L1044.1 379.6 L1045.3 379.5 L1046.5 378.3 L1047.8 377.3 L1049 375.5 L1050.3 371.5 L1051.5 372 L1052.7 373.9 L1054 370.1 L1055.2 376.3 L1056.5 376.8 L1057.7 373.9 L1059.1 375.4 L1060.4 371.4 L1061.8 368.2 L1063.1 366.3 L1064.4 364.9 L1065.7 366.1 L1066.9 364.8 L1068.2 365.5 L1069.5 358.6 L1070.8 367.3 L1072.1 363.1 L1073.3 362.3 L1074.5 364.9 L1075.8 365.4 L1077 366 L1078.2 366 L1079.4 367.4 L1080.6 364.2 L1081.8 364.8 L1083 362.8 L1084.2 362 L1085.4 357.8 L1086.6 358.2 L1088 356.9 L1089.4 356.8 L1090.8 351.6 L1092.1 353.7 L1093.5 353.6 L1094.9 350.4 L1096.1 351.1 L1097.3 352.9 L1098.5 355.6 L1099.7 359.8 L1100.9 363.7 L1102.1 362.2 L1103.5 359.5 L1104.8 360.4 L1106.2 358.4 L1107.4 358.4 L1108.7 361.1 L1109.9 364.8 L1111.2 368.7 L1112.4 368.6 L1113.8 366.7 L1115.2 369.2 L1116.6 366.6 L1117.8 366.4 L1119 365.5 L1120.2 363.1 L1121.4 359.7 L1122.6 360.4 L1123.8 358.9 L1125 358.4 L1126.2 354.2 L1127.4 357.1 L1128.6 349.1 L1129.8 351 L1131 349.9 L1132.2 350.9 L1133.4 345.7 L1134.7 347.1 L1135.9 343 L1137.1 344.9 L1138.3 343.2 L1139.7 341.7 L1141 344.9 L1142.4 344 L1143.6 346 L1144.9 345.3 L1146.1 341.2 L1147.4 337 L1148.6 339 L1149.8 340.7 L1151.1 339.7 L1152.3 338.2 L1153.6 330.5 L1154.8 333.8 L1156 336.9 L1157.3 328.7 L1158.5 333.7 L1159.8 334.5 L1161 328.9 L1162.3 332 L1163.6 328.9 L1164.9 327.3 L1166.2 331.2 L1167.4 329.3 L1168.7 328.3 L1169.9 328.9 L1171.2 325.1 L1172.4 324.3 L1173.6 324 L1174.9 321.6 L1176.1 325.5 L1177.4 320.4 L1178.6 318 L1179.8 318.9 L1181 319.3 L1182.2 326.3 L1183.4 324.5 L1184.6 322.7 L1185.8 326.7 L1187.2 323.7 L1188.5 319.8 L1189.9 319 L1191.3 317.1 L1192.6 324.1 L1194 325.2 L1195.5 328.8 L1197.1 338.6 L1198.5 335.3 L1199.9 333.7 L1201.3 328.9 L1202.7 326 L1204 316.4 L1205.4 315.8 L1206.4 334.1 L1207.8 340.9 L1209.2 343 L1210.6 347.4 L1211.9 347.7 L1213.2 337 L1214.4 337.3 L1215.7 337.1 L1217.1 342.6 L1218.5 342.9 L1219.9 348.3 L1221.5 348.3 L1223 339.7 L1224.4 342.2 L1225.7 349.3 L1227.1 354.7 L1228.5 345.1 L1229.9 351.2 L1231.2 347.6 L1232.6 337.8 L1234 342.2 L1235.4 335.9 L1236.6 340.8 L1237.9 339.4 L1239.1 344.5 L1240.4 337.6 L1241.6 339.6 L1242.9 341 L1244.2 335.4 L1245.4 333.9 L1246.7 334.1 L1248 336 L1249.3 335.3 L1250.6 341.1 L1251.9 342.2 L1253.3 344.4 L1254.7 351 L1256.1 348.6 L1257.4 355.1 L1258.8 353.3 L1260.2 357.7 L1261.4 350.6 L1262.6 353.6 L1263.8 350.8 L1265 348.1 L1266.2 346.8 L1267.4 346.9 L1268.7 346.4 L1269.9 343.2 L1271.2 347.5 L1272.4 348.8 L1273.6 346 L1274.9 342.6 L1276.1 342.8 L1277.4 343 L1278.6 338.8 L1280 335.7 L1281.4 338.4 L1282.8 333.7 L1284.2 335.6 L1285.5 336.5 L1286.9 333 L1288.3 333.9 L1289.6 337.4 L1291 334.4 L1292.5 337.2 L1293.9 341 L1295.3 343.6 L1296.8 345 L1298.1 345.6 L1299.4 340.6 L1300.7 340.8 L1301.9 339.7 L1303.2 336.6 L1304.5 333.5 L1305.7 327.7 L1306.9 325.2 L1308.1 324.9 L1309.3 325.8 L1310.5 326.6 L1311.7 319.2 L1313 320.5 L1314.3 316.5 L1315.6 316 L1316.9 317 L1318.5 320.8 L1320 320.6 L1321.5 319.1 L1323.1 310.1 L1324.3 313.5 L1325.6 313.4 L1326.8 310.6 L1328.1 311.6 L1329.3 309.4 L1330.3 307.9 L1331.4 311.7 L1332.8 304.7 L1334.1 309.8 L1335.5 295 L1336.7 301.8 L1337.9 298.6 L1339.2 300.1 L1340.4 302.6 L1341.6 299.2 L1342.8 303.8 L1344 301.2 L1345.2 292.6 L1346.4 296.4 L1347.6 293.5 L1348.8 290.4 L1350 288 L1351.2 286.1 L1352.4 290.3 L1353.7 292.2 L1354.9 288.2 L1356.1 296.1 L1357.3 291.9 L1358.6 286.5 L1359.8 289.5 L1361.1 281.4 L1362.4 282 L1363.8 278.1 L1365.2 285.1 L1366.6 284.9 L1367.9 284.2 L1369.2 274.9 L1370.4 278.4 L1371.7 273.5 L1373 273 L1374.2 271.5 L1375.5 271.1 L1376.7 265.1 L1378 265.5 L1379.4 267.9 L1380.7 263.6 L1382.1 264.5 L1383.5 266.7 L1384.8 257.3 L1386.2 262.6 L1387.4 264 L1388.7 265.2 L1389.9 272.7 L1391.2 273.7 L1392.4 275.9 L1393.7 268.9 L1395 270.4 L1396.3 260.6 L1397.6 259 L1398.8 259.1 L1400 249.7 L1401.2 251.7 L1402.5 254.8 L1403.7 255.2 L1404.9 254.1 L1406.5 258.6 L1408 259.6 L1409.2 255.9 L1410.5 255.5 L1411.7 258 L1413 252.6 L1414.2 254.5 L1415.5 245.1 L1416.9 251.4 L1418.2 246.2 L1419.5 237.4 L1420.8 246.5 L1422.2 241.9 L1423.5 238.6 L1424.8 235 L1426.1 237.9 L1427.4 246 L1428.7 239.6 L1430.2 232.2 L1431.8 248.9 L1433 242.8 L1434.3 244.1 L1435.5 240.5 L1436.8 235.8 L1438 235.5 L1439.4 241.7 L1440.7 233.1 L1442.1 242.3 L1443.3 242.5 L1444.5 245.4 L1445.7 257.3 L1446.9 260 L1448.4 247.2 L1449.9 245.6 L1451.4 232 L1452.7 229.3 L1454 235.9 L1455.3 228.8 L1456.6 226.5 L1458.2 236.5 L1459.7 241.9 L1461.1 231.3 L1462.4 219.5 L1463.6 226.6 L1464.7 235.5 L1465.9 240.7 L1467.1 244 L1468.3 232.8 L1469.5 229 L1470.7 227.8 L1471.9 229.9 L1473.1 220.8 L1474.5 230.5 L1475.9 217.3 L1477.3 232.5 L1478.6 226.9 L1479.9 229.6 L1481.2 228.7 L1482.4 219.3 L1483.7 222 L1485 221.5 L1486.3 221.1 L1487.6 215.5 L1489 213.5 L1490.4 210.3 L1491.8 229.5 L1493.1 218.8 L1494.5 219.4 L1495.9 218.8 L1497.3 226.4 L1498.7 222 L1500.1 231.5 L1501.4 230.7 L1502.8 228.9 L1504.2 231.4 L1505.4 226.5 L1506.6 230.1 L1507.8 229.7 L1509 227.4 L1510.2 233.1 L1511.4 233.3 L1512.5 254.4 L1513.5 260.4 L1514.9 258 L1516.2 252.9 L1517.6 251.5 L1518.8 251.1 L1520 248.5 L1521.2 244.5 L1522.5 239.9 L1523.7 241.1 L1524.9 237.1 L1526.3 236.1 L1527.6 248.7 L1529 254.4 L1530.2 253.8 L1531.4 260.5 L1532.7 262.1 L1533.9 264.2 L1535.1 262.6 L1536.3 267.4 L1537.5 263.2 L1538.7 266.5 L1539.9 266.4 L1541.1 269 L1542.3 266.1 L1543.5 259.4 L1544.8 255.1 L1546.1 249.7 L1547.4 250.7 L1548.7 248.5 L1550.2 238.8 L1551.8 223.1 L1553.2 218.3 L1554.5 215.3 L1555.9 218.6 L1557.3 221 L1558.7 225.3 L1560.1 229.7 L1561.4 222.8 L1562.7 221.7 L1563.9 232.1 L1565.2 223.6 L1566.5 225.4 L1567.8 226 L1569.1 233.5 L1570.4 241.6 L1571.7 241.5 L1573 237.8 L1574.3 237.9 L1575.6 230.2 L1577 237 L1578.3 246.2 L1579.7 260.7 L1581.1 242.4 L1582.4 240.4 L1583.8 230.4 L1585 231.5 L1586.2 226 L1587.4 228.3 L1588.7 228.2 L1589.9 222.9 L1591.1 221.4 L1592.7 220.3 L1594.3 218.6 L1595.9 221.2 L1597.5 223.8 L1598.9 223.3 L1600.4 226.2 L1601.8 220.8 L1603.2 217.6 L1604.5 222.4 L1605.8 221.7 L1607.2 222.1 L1608.3 210.9 L1609.4 201 L1610.5 193.1 L1611.5 188.6 L1612.6 188.4 L1613.7 185.1 L1614.8 174.7 L1615.8 179.4 L1616.9 181.6 L1618.2 178.6 L1619.6 171.8 L1621 182.6 L1622.3 179.3 L1623.7 176.2 L1625 174 L1626.3 184.2 L1627.7 175 L1629.1 182 L1630.6 172.4 L1632 169 L1633.4 162.6 L1634.9 167.1 L1636.3 167.4 L1637.7 169.6 L1639 168.3 L1640.3 166.3 L1641.7 172.2 L1643 164.5 L1644.2 163.7 L1645.5 164.9 L1646.7 162.8 L1648 164.8 L1649.2 168.9 L1650.6 162.5 L1652.1 154.2 L1653.5 156.2 L1654.9 153.9 L1656.4 162.1 L1657.8 150.2 L1658.9 158.6 L1660 153.9 L1661.6 150.9 L1663.2 149.4 L1664.5 152.9 L1665.8 157.3 L1667.1 163.2 L1668.4 152.8 L1669.7 159.8 L1671 160.5 L1672.3 157.7 L1673.5 147.9 L1674.8 154.3 L1676.1 147.6 L1677.5 147.1 L1679 141.4 L1680.4 141.5 L1681.7 146.3 L1683 146.6 L1684.3 139.9 L1685.6 146.3 L1686.9 144 L1688.2 132.5 L1689.6 141.1 L1691 122.1 L1692.3 126.2 L1693.6 126.8 L1694.9 130.1 L1696.3 121.9 L1697.6 117.9 L1698.7 110.1 L1699.8 103.1 L1700.9 107.3 L1702 100.7 L1703 96.9 L1704.1 106.2 L1705.2 106.5 L1706.9 137.3 L1708.2 125.4 L1709.5 120.9 L1711.1 123.6 L1712.7 113.1 L1713.8 109.1 L1714.9 122.5 L1716 130.4 L1717 138.7 L1718.4 137.1 L1719.9 128.5 L1721.3 128 L1722.4 133.6 L1723.5 133.1 L1724.6 134.2 L1726.2 126.9 L1727.8 125.4 L1729.4 120.3 L1731 128.1 L1732.1 118.4 L1733.2 113.9 L1734.6 123.1 L1736.1 122.9 L1737.5 126.4 L1739.1 127.8 L1740.7 116.9 L1742.1 117.6 L1743.6 117.8 L1745 116 L1746.1 110.6 L1747.2 120.2 L1748.8 113.5 L1750.4 108.5 L1752 113.3 L1753.6 109.1 L1755.3 103.7" stroke="#e9372c" stroke-width="3.05" stroke-linejoin="round"/>
</g>
<g clip-path="url(#cp1)" fill="none" stroke-linejoin="round">
<path d="M209.8 533.6 L211.1 533.6 L212.4 535.7 L213.6 537 L214.9 536.4 L216.2 539.1 L217.5 535.7 L218.8 537.6 L220.1 537.6 L221.3 538.4 L222.6 536.3 L223.9 537.6 L225.2 535.4 L226.5 533.7 L227.8 536.8 L229.1 534.5 L230.4 534.3 L231.7 535.2 L233 533.4 L234.3 532.9 L235.6 533.2 L236.9 533.2 L238.2 532.8 L239.5 532.8 L240.8 533.1 L242 533.5 L243.3 535.6 L244.6 532.9 L245.9 534.9 L247.2 535.2 L248.5 533.1 L249.8 535.4 L251.1 535.8 L252.4 538.5 L253.6 538.5 L254.9 538.5 L256.2 541.2 L257.5 541.9 L258.8 544 L260.1 543.6 L261.4 542.9 L262.7 546.7 L264 548.9 L265.3 548 L266.6 550.5 L267.9 554.2 L269.2 553.8 L270.5 556 L271.8 558.1 L273.1 553.4 L274.3 551.3 L275.6 545.6 L276.9 545.8 L278.2 542.5 L279.5 545 L280.8 547.6 L282.1 549.1 L283.4 546.9 L284.7 545 L286 545.1 L287.2 540.2 L288.5 543 L289.8 540.8 L291.1 542.1 L292.4 546 L293.7 548.5 L295 549.8 L296.3 551.6 L297.6 556.1 L298.9 554.3 L300.1 557.5 L301.4 558.7 L302.7 557.3 L304 550.6 L305.3 548.3 L306.6 543.5 L307.9 542.4 L309.2 543.9 L310.5 540.1 L311.8 541.2 L313 539.2 L314.3 538.8 L315.6 536.3 L316.9 535.5 L318.2 537.2 L319.5 537.7 L320.8 537.7 L322.1 537.9 L323.4 538.9 L324.7 541.7 L326 540.2 L327.3 537.1 L328.6 536 L329.9 536.9 L331.1 537.8 L332.4 535.5 L333.7 535.5 L335 534.6 L336.3 534.3 L337.6 534.8 L338.9 535.4 L340.2 535.4 L341.5 537.1 L342.8 537.2 L344.1 536.2 L345.4 539.7 L346.6 544.4 L347.9 546.8 L349.2 547.8 L350.5 544.9 L351.8 542.8 L353.1 539 L354.4 535.4 L355.7 537.7 L357 538.3 L358.3 536.2 L359.6 539.9 L360.9 537.6 L362.1 536.5 L363.4 536.8 L364.7 533.2 L366 534.1 L367.3 535.6 L368.6 536.8 L369.9 535.7 L371.2 535.5 L372.5 533.6 L373.8 533.9 L375.1 537.2 L376.4 537.5 L377.6 540 L378.9 542.2 L380.2 544.5 L381.3 542.8 L382.5 551.2 L383.6 552.3 L384.8 554.5 L385.9 556.1 L387.1 552.8 L388.3 548.2 L389.4 543.8 L390.6 541 L391.8 536 L393.1 536.6 L394.4 535.8 L395.7 538 L397 541.8 L398.3 539.1 L399.6 541.9 L400.9 542.1 L402.2 545.6 L403.5 543.5 L404.8 543.3 L406 547.9 L407.3 547.5 L408.6 548.5 L409.9 550.7 L411.2 549 L412.5 550.4 L413.8 551.9 L415.1 553 L416.4 551.8 L417.7 555.3 L419 555.4 L420.3 562 L421.5 576.9 L422.8 578.8 L424.1 581.1 L425.4 572.3 L426.7 569.7 L428 565.2 L429.3 562.3 L430.6 559.2 L431.9 559.5 L433.1 561.3 L434.4 559.2 L435.7 555 L437 553.1 L438.3 551.7 L439.6 549.8 L440.9 554.1 L442.2 550.9 L443.5 548.8 L444.8 548.8 L446.1 548.8 L447.4 553.9 L448.6 553.8 L449.9 551.6 L451.2 556.2 L452.5 554.4 L453.8 554 L455.1 548.8 L456.4 547.4 L457.7 546.5 L459 543.8 L460.3 541.1 L461.6 540.1 L462.9 544.6 L464.2 545.1 L465.4 543.8 L466.7 545.4 L468 544.1 L469.3 546.1 L470.6 545.3 L471.9 548.9 L473.2 550.4 L474.5 553.7 L475.8 554.4 L477.1 554.4 L478.4 556.6 L479.7 560.3 L481 563.5 L482.2 568.2 L483.5 566.2 L484.8 575.3 L486.1 576.8 L487.4 586.6 L488.7 595.2 L490 588.3 L491.3 590.1 L492.6 579.5 L493.9 576.1 L495.2 581.2 L496.4 579.6 L497.7 585.5 L499 589 L500.3 591.2 L501.6 597.5 L502.9 599.9 L504.2 607 L505.5 600.7 L506.8 597.5 L508 595.8 L509.3 589.1 L510.6 585.1 L511.9 582.4 L513.2 581.5 L514.5 575.3 L515.8 572.3 L517.1 578.5 L518.4 574.9 L519.7 580.7 L521 575.7 L522.2 582.3 L523.5 573 L524.8 575.4 L526.1 582.1 L527.4 578.2 L528.7 588.9 L530 586.6 L531.3 583 L532.6 592.5 L533.9 593.7 L535.2 591.9 L536.5 590.8 L537.8 591.7 L539.1 588.8 L540.3 586.5 L541.6 584.7 L542.9 581.7 L544.2 579.5 L545.5 584.1 L546.8 580.8 L548.1 573.2 L549.4 569.9 L550.7 569.7 L552 569.6 L553.3 566.3 L554.5 559.7 L555.8 560.3 L557.1 557.9 L558.4 556.2 L559.7 557.7 L561 556.6 L562.3 558.1 L563.6 555.2 L564.9 559.2 L566.2 555.5 L567.5 556.8 L568.8 556.1 L570.1 550.5 L571.4 548.8 L572.6 544.9 L573.9 546 L575.2 543.4 L576.5 543.9 L577.8 546.3 L579.1 542.8 L580.4 547.4 L581.7 545.8 L583 543.4 L584.2 543.1 L585.5 542.6 L586.8 537.5 L588.1 537 L589.4 537.2 L590.7 535.9 L592 536.6 L593.4 536.8 L594.7 536.8 L596 535.2 L597.2 536 L598.4 535.2 L599.6 535.2 L600.8 538.3 L601.9 534.7 L603.1 534.5 L604.3 535 L605.5 534.6 L606.8 537.6 L608.1 536.5 L609.4 536 L610.7 538.9 L611.9 540.9 L613.2 540 L614.5 540.8 L615.8 542.2 L617.1 541.3 L618.4 542.7 L619.7 541 L621 539 L622.3 536.8 L623.6 536.5 L624.9 537.7 L626.2 541.7 L627.4 541.7 L628.7 546 L630 544.2 L631.3 543.6 L632.6 543.4 L633.9 541.6 L635.2 537.7 L636.5 537.8 L637.8 538 L639.1 536.9 L640.4 538.7 L641.7 539.9 L643 542.1 L644.2 545.5 L645.5 546.8 L646.8 543.6 L648.1 549.3 L649.4 545.6 L650.7 543.6 L652 545.2 L653.2 540.5 L654.5 536.8 L655.8 537.8 L657.1 535 L658.4 537 L659.7 536.1 L661 537.7 L662.3 537.1 L663.6 535.1 L664.9 538.7 L666.2 536.2 L667.5 538 L668.8 538 L670.1 539.3 L671.4 537.9 L672.7 539.3 L674 541.8 L675.2 539.1 L676.5 537.6 L677.8 539.9 L679.1 538.4 L680.4 539.3 L681.7 540.3 L683 540.4 L684.3 539.3 L685.6 540.4 L686.9 538.4 L688.1 536.3 L689.4 538.8 L690.7 536.5 L692 538.9 L693.3 536.4 L694.6 538 L695.9 538.9 L697.2 535.7 L698.5 538.6 L699.7 540.4 L701 545.6 L702.3 541.4 L703.6 546.3 L704.9 546.1 L706.2 543.6 L707.5 542.4 L708.8 539.2 L710.1 538.4 L711.4 537.3 L712.7 536.3 L714 534.5 L715.3 534.5 L716.6 535.5 L717.9 535.3 L719.1 535.1 L720.4 537.5 L721.7 536.8 L723 535.3 L724.3 535.7 L725.6 535.2 L726.9 539.9 L728.1 535.5 L729.4 535.4 L730.7 536.5 L732 536.4 L733.3 537 L734.6 538.4 L735.9 539.8 L737.2 542.2 L738.5 543.4 L739.8 541.4 L741.1 545.5 L742.4 545.6 L743.7 542.5 L745 544.2 L746.2 539 L747.5 536.7 L748.8 536.8 L750.1 534.6 L751.4 536.1 L752.7 535.1 L754 537.3 L755.3 535.6 L756.6 536.2 L757.9 537.2 L759.2 536.7 L760.4 536.5 L761.7 536.2 L763 536.1 L764.3 538.6 L765.6 537.7 L766.9 537.4 L768.2 536.8 L769.5 539.2 L770.8 538.7 L772.1 536.7 L773.4 536.9 L774.7 536.5 L776 536.6 L777.2 535.6 L778.5 536.2 L779.8 536 L781.1 536.9 L782.4 537.3 L783.7 534.8 L785 539.2 L786.3 537.4 L787.6 538.9 L788.8 540.9 L790.1 543.5 L791.4 544 L792.7 546.9 L794 544.2 L795.3 547.3 L796.6 545.6 L797.9 547.8 L799.2 542.2 L800.5 545.8 L801.8 547.2 L803.1 541.6 L804.4 543.8 L805.6 543.2 L806.9 541.8 L808.2 538 L809.5 538.9 L810.8 537.9 L812.1 538.6 L813.4 537 L814.7 534.6 L816 533.5 L817.3 532.8 L818.6 533.3 L819.9 532.8 L821.2 534.2 L822.5 533.1 L823.8 533.3 L825.1 532.8 L826.3 533.7 L827.6 532.8 L828.9 532.8 L830.2 533 L831.5 532.8 L832.8 535.8 L834.1 532.8 L835.4 532.8 L836.7 533.2 L838 535.2 L839.3 537.1 L840.6 536.1 L841.9 536 L843.1 536.8 L844.4 539.4 L845.7 538.3 L847 539.4 L848.3 545.1 L849.6 543.7 L850.9 543.2 L852.2 542.2 L853.5 539.6 L854.7 535 L856 538.3 L857.3 536.9 L858.6 533.6 L859.9 536.8 L861.2 535.7 L862.5 536 L863.8 534.6 L865.1 534.1 L866.4 535.3 L867.6 534.2 L868.9 536.1 L870.2 534.4 L871.5 535.6 L872.8 534.6 L874.1 535.5 L875.4 538.7 L876.7 543.3 L878 541.3 L879.2 545.1 L880.5 547 L881.8 549.9 L883.1 550 L884.4 550.6 L885.7 549.7 L887 545.1 L888.3 546.8 L889.6 547.3 L890.9 540.8 L892.2 543.3 L893.5 542.9 L894.8 540.9 L896.1 538.1 L897.3 537.9 L898.6 535.4 L899.9 536.9 L901.2 541.9 L902.5 548 L903.8 546.3 L905.1 554 L906.4 555.2 L907.7 552 L909 554.9 L910.2 544.6 L911.5 547.1 L912.8 551.9 L914.1 560.1 L915.4 564.2 L916.7 570 L918 569.2 L919.3 569.4 L920.6 568.2 L921.9 564 L923.2 561.6 L924.5 558.6 L925.8 561 L927 562.3 L928.3 573.3 L929.6 571.3 L930.9 564.2 L932.2 568 L933.5 565.1 L934.8 563.4 L936.1 564.9 L937.4 558.6 L938.7 557.8 L940 556.4 L941.3 557.6 L942.5 556.4 L943.8 557.3 L945.1 562.9 L946.4 556.5 L947.7 556.3 L949 564.2 L950.3 563.9 L951.6 564.6 L952.9 569.5 L954.2 573.8 L955.4 577.4 L956.7 580.9 L958 579.7 L959.3 577.9 L960.6 570.4 L961.9 569.1 L963.2 567.8 L964.5 572.6 L965.8 572.8 L967.1 570 L968.4 572.2 L969.7 584.3 L970.9 585.7 L972.2 585.8 L973.5 596.3 L974.8 608.7 L976.1 615.5 L977.4 622.5 L978.7 631.6 L980 631.6 L981.3 629.2 L982.6 642.6 L983.9 642.5 L985.2 636.8 L986.4 626.9 L987.7 621 L989 616.2 L990.3 619.1 L991.6 614.5 L992.9 613.8 L994.2 626 L995.5 617.8 L996.8 622.4 L998.1 629.4 L999.4 617.1 L1000.7 636.5 L1001.9 626.5 L1003.2 632.2 L1004.5 634.5 L1005.8 644.8 L1007.1 649.3 L1008.4 644.6 L1009.7 630.2 L1011 627.8 L1012.3 630.9 L1013.6 634.3 L1014.9 621.2 L1016.1 622.7 L1017.4 617.3 L1018.7 613.7 L1020 615.7 L1021.3 603.7 L1022.6 609.6 L1023.9 606.2 L1025.2 604.2 L1026.5 602.7 L1027.8 602.8 L1029.1 603.8 L1030.3 605.5 L1031.6 623 L1032.9 616.9 L1034.2 611 L1035.5 610.6 L1036.8 600.4 L1038.1 590.2 L1039.4 595.1 L1040.7 596.2 L1042 599.1 L1043.3 592 L1044.6 587 L1045.8 587.8 L1047.1 583.6 L1048.4 580.6 L1049.7 583 L1051 582.5 L1052.3 581.6 L1053.6 581.8 L1054.9 582.1 L1056.2 586.2 L1057.5 587.5 L1058.8 583.9 L1060.1 590.3 L1061.3 577 L1062.6 581.5 L1063.9 576 L1065.2 577.9 L1066.5 577.1 L1067.8 577.1 L1069.1 577.4 L1070.4 571.5 L1071.7 568.4 L1073 570.2 L1074.3 573.2 L1075.6 572.6 L1076.8 579.1 L1078.1 583.6 L1079.4 579.2 L1080.8 578.9 L1082.1 577.8 L1083.5 567.1 L1084.8 569.9 L1086.2 566.3 L1087.5 561.4 L1088.9 566 L1090.2 561.7 L1091.5 558.4 L1092.8 558.6 L1094.2 557.2 L1095.5 554.6 L1096.8 558.9 L1098.1 562.3 L1099.4 562.2 L1100.7 568.2 L1102.1 571 L1103.4 565.3 L1104.8 576.9 L1106.3 570.7 L1107.9 567.7 L1109.5 569.8 L1111 581.3 L1112.2 578.4 L1113.5 574 L1114.7 571.8 L1116 567.9 L1117.2 566.9 L1118.5 569.6 L1119.8 570.4 L1121.1 576.3 L1122.4 576.7 L1123.6 574.6 L1124.8 572.7 L1126 572.3 L1127.2 567.9 L1128.4 564.4 L1129.6 561.2 L1130.8 558.4 L1132 558.2 L1133.2 559.2 L1134.3 557.1 L1135.5 554.7 L1136.7 551.7 L1137.9 552.1 L1139.3 553.3 L1140.6 554.3 L1142 552.2 L1143.2 547.7 L1144.5 547.9 L1145.7 546.8 L1147 542.9 L1148.2 542.6 L1149.4 541 L1150.6 538.9 L1151.8 537.2 L1153 539 L1154.2 537.3 L1155.4 536.3 L1156.7 538.4 L1158.1 538.2 L1159.4 538.4 L1160.7 537.8 L1162 541.2 L1163.4 539.1 L1164.7 539.7 L1165.9 541 L1167.1 538.3 L1168.3 538.3 L1169.4 537 L1170.6 538.2 L1171.8 537.7 L1173 534.7 L1174.2 537.4 L1175.3 536.8 L1176.5 537.7 L1177.7 535.6 L1178.9 537.5 L1180 536 L1181.2 536 L1182.5 536.6 L1183.8 537 L1185.1 543 L1186.4 544 L1187.6 543.8 L1188.9 538.6 L1190.1 539.8 L1191.4 537.3 L1192.6 536.1 L1194.2 543.7 L1195.7 551.1 L1197.4 570.1 L1198.5 564.8 L1199.7 565.5 L1200.8 558.2 L1201.9 559.7 L1203.5 562.4 L1205 564.8 L1206.4 569.7 L1207.7 572.6 L1209.1 576.1 L1210.5 566.6 L1211.9 554.5 L1213.3 548.8 L1214.6 549.8 L1215.8 549.4 L1217.1 548.9 L1218.4 553 L1219.6 553.6 L1220.9 551 L1222.1 555.1 L1223.4 558.2 L1224.6 555.1 L1225.8 553.8 L1227.1 550.2 L1228.3 547.8 L1229.6 548.6 L1230.8 546.5 L1232 543.1 L1233.3 540.9 L1234.5 540.4 L1235.8 537 L1237 536.1 L1238.2 537 L1239.4 537.1 L1240.6 537 L1241.7 534.8 L1242.9 536 L1244.1 534.7 L1245.3 534.7 L1246.5 536.8 L1247.7 535.4 L1248.9 536 L1250.1 535.3 L1251.3 536 L1252.5 536.3 L1253.8 538.2 L1255.1 539.5 L1256.4 544.6 L1257.7 546.4 L1259.2 549.1 L1260.8 553.2 L1262.1 549.6 L1263.4 550.4 L1264.7 545 L1266 544.1 L1267.3 544.6 L1268.5 543 L1269.8 544.9 L1271.1 545.3 L1272.3 543.3 L1273.5 541.6 L1274.7 542.9 L1275.9 537.7 L1277.1 539.6 L1278.3 534.9 L1279.5 537.2 L1280.8 539.2 L1282 536.2 L1283.3 538.8 L1284.5 536.5 L1285.7 537.2 L1287 536.1 L1288.2 535.8 L1289.5 536 L1290.7 535.8 L1291.9 536.8 L1293 538.1 L1294.2 539.9 L1295.3 543.9 L1296.5 543.2 L1297.8 542.9 L1299.1 539.1 L1300.5 538.5 L1301.8 536.2 L1303.1 536.7 L1304.3 537.7 L1305.5 536.3 L1306.7 536.1 L1307.8 535.8 L1309 534.7 L1310.2 534.2 L1311.4 533.3 L1312.7 534.1 L1313.9 537.7 L1315.2 535.7 L1316.5 534.9 L1317.7 533.9 L1319 537.8 L1320.3 534.3 L1321.6 535 L1322.8 536.9 L1324.1 535.2 L1325.4 537.9 L1326.6 535.4 L1327.9 534.7 L1329.1 535.8 L1330.3 535.9 L1331.5 535.1 L1332.6 535.2 L1333.8 534.6 L1335 535.5 L1336.2 534.3 L1337.4 536.1 L1338.6 536.5 L1339.8 540 L1341 536.2 L1342.2 541.7 L1343.4 543.7 L1344.7 539.5 L1346 540.2 L1347.3 536.8 L1348.6 534.8 L1349.8 536.3 L1351 536.3 L1352.2 535.9 L1353.3 538.4 L1354.5 536.5 L1355.7 536.7 L1356.9 538.1 L1358.2 537.4 L1359.6 542.6 L1360.9 536.1 L1362.2 540.2 L1363.5 538 L1364.9 538.5 L1366.2 539.5 L1367.5 538.5 L1368.7 536.2 L1370 537.9 L1371.2 536.5 L1372.5 540.4 L1373.7 536.1 L1375 537.2 L1376.2 536 L1377.5 534.4 L1378.8 534.7 L1380.1 534.9 L1381.4 538.5 L1382.7 535.4 L1384 535.9 L1385.3 535.3 L1386.6 535.2 L1387.9 536.6 L1389.3 535.5 L1390.6 538.1 L1392 543.9 L1393.3 540.3 L1394.5 538 L1395.8 537.3 L1397.1 534.7 L1398.4 534.6 L1399.8 538.2 L1401.1 537 L1402.4 539.1 L1403.7 536.6 L1405.1 537.3 L1406.4 537.1 L1407.6 537 L1408.9 539.4 L1410.1 536.4 L1411.4 536.5 L1412.6 534.5 L1413.8 536.3 L1415 534.6 L1416.2 536.4 L1417.4 535.7 L1418.6 535.8 L1419.8 536 L1421.1 535.3 L1422.3 535.7 L1423.5 534.8 L1424.7 535.2 L1425.9 536.5 L1427.1 535.7 L1428.4 537.7 L1429.7 539.8 L1431 540.2 L1432.3 540.1 L1433.6 539.4 L1434.8 537.9 L1436.1 536.5 L1437.4 534.5 L1438.8 538.1 L1440.2 537 L1441.6 538.8 L1442.9 541.2 L1444.2 542.7 L1445.4 545.1 L1446.7 544.3 L1448.1 541.2 L1449.5 538.1 L1450.9 534.7 L1452.2 534.4 L1453.5 535 L1454.8 534.3 L1456.1 537.9 L1457.4 538 L1458.7 534.1 L1460 535.5 L1461.3 534.7 L1462.6 538.1 L1464 535.2 L1465.3 538.1 L1466.6 536.1 L1467.8 535.9 L1469 538.6 L1470.3 535.9 L1471.5 536.1 L1472.7 536.6 L1473.9 534.9 L1475.1 535.9 L1476.3 534.3 L1477.6 534.5 L1478.8 534.2 L1480 534 L1481.3 534.2 L1482.5 536.1 L1483.8 535.2 L1485 533.6 L1486.3 534.1 L1487.5 533.5 L1488.8 535.8 L1490 533.9 L1491.3 533.4 L1492.5 535.3 L1493.8 535.1 L1495 533.9 L1496.3 534.7 L1497.5 533.9 L1498.8 534.9 L1500 533.4 L1501.3 533.1 L1502.5 535.1 L1503.7 534.5 L1504.9 534.8 L1506 535 L1507.2 535 L1508.4 538.5 L1509.6 535.8 L1510.7 536.7 L1511.8 538.8 L1512.9 541.3 L1514.2 546 L1515.4 550.2 L1516.6 546.8 L1517.7 552.6 L1518.9 550.8 L1520 547 L1521.2 545.7 L1522.5 545.1 L1523.8 543.9 L1525.2 538.1 L1526.5 540 L1527.8 537.6 L1529.2 540.5 L1530.5 543.5 L1531.9 543.4 L1533 538.8 L1534.1 541.3 L1535.2 537.9 L1536.6 540.5 L1537.9 545.5 L1539.3 549 L1540.4 550 L1541.5 553 L1542.6 555.1 L1544 559.2 L1545.4 553.8 L1546.8 560.8 L1547.9 559.2 L1549 565.1 L1550.1 563.3 L1551.2 559.5 L1552.3 557.3 L1553.4 556.1 L1554.8 549 L1556.1 549.4 L1557.5 544.3 L1558.8 545.6 L1560 542 L1561.2 542.1 L1562.5 540.1 L1563.7 541.7 L1565 537.4 L1566.2 536.8 L1567.4 537 L1568.7 536.7 L1569.9 538.4 L1571.2 537.3 L1572.4 539.3 L1573.5 534.6 L1574.6 536.5 L1575.7 535.2 L1576.8 534.9 L1577.9 536.9 L1579 541.7 L1580.2 540.1 L1581.5 535.8 L1582.8 540 L1584 535.2 L1585.2 535.2 L1586.3 534.7 L1587.5 536.1 L1588.7 536.7 L1589.9 534.8 L1591 535.3 L1592.2 533.6 L1593.5 536 L1594.8 535.5 L1596.1 533.7 L1597.4 534.7 L1598.6 534.1 L1599.9 534.9 L1601.2 536.2 L1602.5 536.3 L1603.8 535.2 L1605.1 536.7 L1606.3 540.5 L1607.6 541.3 L1609 540.2 L1610.4 534.4 L1611.6 534.8 L1612.8 534.8 L1614 534.2 L1615.1 533.8 L1616.3 534.8 L1617.5 534.5 L1618.7 533.6 L1620 534.6 L1621.2 534.6 L1622.5 536 L1623.7 533.7 L1625 533.5 L1626.2 534.3 L1627.5 534.6 L1628.7 533.6 L1630 533.8 L1631.2 536.9 L1632.5 536.2 L1633.7 535.7 L1635 535 L1636.2 534.7 L1637.5 535.5 L1638.7 534.1 L1640 534 L1641.2 533.9 L1642.5 534.5 L1643.7 535 L1644.9 534.3 L1646.2 534.5 L1647.4 536.7 L1648.6 539.1 L1649.8 538.5 L1651.1 536.2 L1652.3 535.4 L1653.5 537.4 L1654.8 537.8 L1656 537.5 L1657.2 537.7 L1658.5 538.2 L1659.7 539.9 L1660.9 540.1 L1662.1 538.5 L1663.4 535.8 L1664.6 539 L1665.8 538.4 L1667.1 534.3 L1668.3 538.3 L1669.6 536 L1670.9 538.4 L1672.2 537.7 L1673.5 537.3 L1674.8 538.3 L1676.1 535.2 L1677.4 536.2 L1678.7 535 L1680 534.5 L1681.3 537.2 L1682.5 536.6 L1683.8 534.6 L1685 534.3 L1686.3 535.5 L1687.5 536.3 L1688.8 534.4 L1690 535.7 L1691.3 535.3 L1692.5 533.5 L1693.8 534 L1695 534 L1696.3 534.4 L1697.5 537.2 L1698.8 534.6 L1700 535 L1701.3 535.4 L1702.5 534.1 L1703.8 533.7 L1705 538.8 L1706.3 548.7 L1707.4 544.1 L1708.5 540.7 L1709.6 538.4 L1710.8 538.9 L1711.9 540.4 L1713.1 543.3 L1714.2 548 L1715.4 547.2 L1716.6 546.7 L1717.8 541.8 L1719.1 539.6 L1720.3 542.1 L1721.5 540.7 L1722.6 539.1 L1723.8 541.5 L1724.9 542.7 L1726.1 541 L1727.4 539.6 L1728.7 540.2 L1730.1 537.4 L1731.4 538.8 L1732.7 537.3 L1733.9 537.2 L1735.1 537 L1736.3 535.9 L1737.4 536.8 L1738.6 535.6 L1739.8 535.7 L1741 535 L1742.3 536.2 L1743.6 538.9 L1745 534.7 L1746.3 534 L1747.6 533.6 L1748.8 534.1 L1750 533.4 L1751.2 533.7 L1752.3 534.5 L1753.5 533.8 L1754.7 533.6 L1755.9 532.8" stroke="#3c63c5" stroke-width="3.0"/>
<path d="M209.8 532.8 L211.1 537.1 L212.3 540.8 L213.6 543.3 L214.9 544.7 L216.2 547.3 L217.5 541 L218.8 545.3 L220.1 542.6 L221.4 544 L222.7 543.8 L224 544.6 L225.2 543.2 L226.5 540.7 L227.8 541.2 L229.1 538.7 L230.4 537 L231.7 536.1 L233 533.1 L234.3 536.2 L235.6 535.5 L236.9 535.2 L238.2 536.9 L239.5 536 L240.8 537.7 L242.1 536.9 L243.4 537.8 L244.7 538.9 L245.9 539.1 L247.2 539.5 L248.5 535.4 L249.8 535.4 L251.1 539 L252.4 540.8 L253.7 542.5 L255 542.4 L256.3 546.5 L257.6 550 L258.9 550.5 L260.1 551.3 L261.4 550.3 L262.7 549.8 L264 554.3 L265.3 556.5 L266.6 562 L267.9 563.4 L269.2 568.1 L270.5 563.2 L271.8 563.5 L273 567.1 L274.3 566.1 L275.6 564.8 L276.9 569.3 L278.2 574 L279.5 567.8 L280.8 572.1 L282.1 573.6 L283.4 568.4 L284.6 574.3 L285.9 573.5 L287.2 571.6 L288.5 572.1 L289.8 566.1 L291.1 571.6 L292.4 571.4 L293.7 564.8 L295 560.9 L296.3 559.7 L297.6 561 L298.9 568.8 L300.1 568 L301.4 567.7 L302.7 573 L304 575.3 L305.3 573.4 L306.6 573.4 L307.9 578.9 L309.2 570 L310.5 572.8 L311.8 567.4 L313.1 570.8 L314.4 566 L315.7 571.6 L316.9 570.2 L318.2 564.8 L319.5 563.1 L320.8 566.4 L322.1 569.8 L323.4 567.2 L324.7 570.4 L326 575.8 L327.3 576.3 L328.6 573 L329.8 572.4 L331.1 566.5 L332.4 565.9 L333.7 566.6 L335 561.5 L336.3 561.1 L337.6 558.8 L338.9 558.1 L340.2 553.7 L341.5 556 L342.8 551.3 L344.1 554.1 L345.4 556.2 L346.6 558.9 L347.9 559.4 L349.2 559.1 L350.5 557.1 L351.8 560.3 L353.1 555.5 L354.4 553 L355.7 552.7 L357 549.9 L358.2 549.1 L359.5 548.4 L360.8 549.4 L362.1 546.1 L363.4 544.7 L364.7 539.1 L366 536.2 L367.3 535.5 L368.6 536.6 L369.9 537.3 L371.2 534.4 L372.5 534.3 L373.8 535.3 L375.1 537 L376.3 538 L377.6 537.5 L378.9 539.9 L380.2 541.4 L381.5 544.1 L382.8 544.8 L384.1 549.1 L385.4 551.5 L386.7 552.2 L388 549.1 L389.2 543.3 L390.5 541.9 L391.8 537.6 L393.1 537.5 L394.4 535.7 L395.7 535.6 L397 533.6 L398.3 537.8 L399.6 537.2 L400.9 537.3 L402.2 537.5 L403.5 540.4 L404.8 541 L406.1 538.7 L407.4 540 L408.6 539.8 L409.9 540.8 L411.2 536.6 L412.5 537.7 L413.8 539.1 L415.1 541.1 L416.4 539.9 L417.6 541.3 L418.9 538.5 L420.2 540.4 L421.5 542.9 L422.8 541.7 L424.1 545.9 L425.4 541.4 L426.7 542.3 L428 540.4 L429.3 544.2 L430.6 543.5 L431.9 546.3 L433.2 542.9 L434.5 541.9 L435.8 539.7 L437 541.5 L438.3 542.7 L439.6 542.1 L440.9 541.2 L442.2 540.7 L443.5 538.2 L444.8 538 L446.1 536.4 L447.4 535.8 L448.7 539.5 L450 540 L451.2 540 L452.5 544.6 L453.8 546.4 L455.1 544.7 L456.4 542 L457.7 543 L459 533.9 L460.3 536.5 L461.6 535.6 L462.9 537.5 L464.1 534.7 L465.4 535 L466.7 535.2 L468 536.9 L469.3 535.2 L470.6 536.5 L471.9 538.4 L473.2 541.7 L474.5 540.2 L475.8 540 L477.1 538.4 L478.4 544 L479.7 544.8 L481 546.4 L482.3 546.3 L483.5 550.8 L484.8 547.7 L486.1 552.6 L487.4 554 L488.7 554.2 L490 555.8 L491.3 552.7 L492.5 552.8 L493.8 553.9 L495.1 549 L496.4 551.1 L497.7 551.3 L499 553.6 L500.3 550.8 L501.6 554.3 L502.9 554 L504.1 550.8 L505.4 551.3 L506.7 551.9 L508 555.3 L509.3 554.5 L510.6 554.4 L511.9 553.5 L513.2 549.9 L514.5 551.7 L515.8 549.2 L517.1 547.3 L518.4 545.1 L519.7 539.8 L521 540.1 L522.3 535.8 L523.6 535.7 L524.9 535.6 L526.2 535.2 L527.4 535 L528.7 535.1 L530 536 L531.3 540.2 L532.6 541.3 L533.9 542.6 L535.2 547.5 L536.5 552.2 L537.8 551 L539 551.8 L540.3 558.9 L541.6 561.9 L542.9 560.2 L544.2 558.4 L545.5 557.7 L546.8 561.7 L548.1 554.4 L549.4 553.3 L550.7 550.8 L552 544.2 L553.2 542.8 L554.5 539.9 L555.8 539.8 L557.1 536.4 L558.4 539.9 L559.7 536.6 L561 536.6 L562.3 536 L563.6 536 L564.9 540.3 L566.1 536 L567.4 538.3 L568.7 537.8 L570 536.3 L571.3 536.4 L572.6 535.1 L573.9 535.1 L575.2 535.2 L576.5 534.9 L577.8 535.8 L579 538 L580.3 535.4 L581.6 536.3 L582.9 538.2 L584.2 536.1 L585.5 535.6 L586.6 537.5 L587.8 536.9 L588.9 538 L590 535.5 L591.3 538.3 L592.6 534.4 L593.9 537.6 L595.2 535.3 L596.5 536.7 L597.8 534 L599 536.6 L600.3 535.5 L601.6 534.1 L602.9 533.8 L604.2 534.8 L605.5 533.4 L606.8 534.3 L608.1 535.2 L609.4 536 L610.7 536.6 L611.9 539.1 L613.2 536.4 L614.5 539 L615.8 540.9 L617.1 541.4 L618.4 539.4 L619.7 538.2 L621 537.7 L622.3 538.5 L623.6 534.7 L624.9 536.8 L626.2 538.4 L627.4 539.2 L628.7 538.2 L630 543.1 L631.3 540.9 L632.6 539.3 L633.9 539.7 L635.2 537.4 L636.5 537.1 L637.8 536.1 L639.1 539.1 L640.4 536.7 L641.7 537.5 L643 539.4 L644.2 540.1 L645.5 540.1 L646.8 539.9 L648.1 542.3 L649.4 541.3 L650.7 538.4 L652 539.9 L653.2 535.4 L654.5 539.6 L655.8 534.9 L657.1 534.4 L658.4 536.1 L659.7 534.8 L661 533.1 L662.3 533.3 L663.6 534.2 L664.9 535.7 L666.2 535.8 L667.5 533 L668.8 534.7 L670.1 537.5 L671.4 536.7 L672.7 535.5 L674 535 L675.2 537.3 L676.5 537.1 L677.8 538.1 L679.1 538.4 L680.4 538.6 L681.7 540.4 L683 538.7 L684.3 540.5 L685.6 536.7 L686.9 539.6 L688.1 542.5 L689.4 536.2 L690.7 537.2 L692 535.1 L693.3 535.3 L694.6 536.9 L695.9 536.5 L697.2 539.6 L698.5 535.9 L699.7 537.8 L701 542.2 L702.3 541.3 L703.6 540.5 L704.9 541.1 L706.2 537.7 L707.5 540.6 L708.8 539 L710.1 537.5 L711.4 537.9 L712.7 535.8 L714 533.9 L715.3 534.4 L716.6 533.7 L717.9 536.1 L719.1 534.2 L720.4 538 L721.7 534.8 L723 537.4 L724.3 536.3 L725.6 535.9 L726.9 538.9 L728.1 535.4 L729.4 535.1 L730.7 535.4 L732 536 L733.3 537.5 L734.6 537.5 L735.9 537.8 L737.2 535.6 L738.5 542.3 L739.8 544.6 L741.1 543.4 L742.4 544.9 L743.7 543.6 L745 538.9 L746.2 539.5 L747.5 538.5 L748.8 538.3 L750.1 533.5 L751.4 533.8 L752.7 535 L754 536.4 L755.3 534.6 L756.6 536.5 L757.9 535.9 L759.2 537 L760.4 536.5 L761.7 535.2 L763 535.9 L764.3 535.7 L765.6 535.7 L766.9 536.5 L768.2 536.3 L769.5 537.6 L770.8 537.2 L772.1 538.5 L773.4 535.9 L774.7 535.7 L776 538.4 L777.2 535.2 L778.5 535.5 L779.8 535.2 L781.1 536.2 L782.4 535 L783.7 534.7 L785 536.2 L786.3 537.5 L787.6 541.6 L788.8 541.7 L790.1 544.7 L791.4 546.1 L792.7 548.6 L794 546.1 L795.3 547.6 L796.6 542 L797.9 542.4 L799.2 540.5 L800.5 540.6 L801.8 541.1 L803.1 542.7 L804.3 542.2 L805.6 542.3 L806.9 543.7 L808.2 547 L809.5 549.7 L810.8 554.4 L812.1 557.6 L813.4 560.8 L814.7 557.5 L816 553.8 L817.3 551 L818.6 550.8 L819.9 548.6 L821.2 549.9 L822.5 545.2 L823.8 545.9 L825 544.1 L826.3 537.7 L827.6 538 L828.9 538.6 L830.2 539.5 L831.5 536.3 L832.8 537.9 L834 536.6 L835.3 535.4 L836.6 535 L837.9 535.8 L839.2 535.6 L840.5 537.6 L841.8 536.4 L843.1 535.8 L844.3 537.7 L845.6 538.9 L846.9 537.5 L848.2 540 L849.5 538.6 L850.8 539.7 L852.1 539.4 L853.4 537.5 L854.7 538.7 L856 538.8 L857.3 534.4 L858.6 533.4 L859.9 534.3 L861.2 534.1 L862.5 536.8 L863.8 534.9 L865.1 535.1 L866.4 535.1 L867.6 536 L868.9 535.2 L870.2 535.5 L871.5 537.7 L872.8 536.3 L874.1 536.2 L875.4 537 L876.7 541.5 L878 544.2 L879.2 543.6 L880.5 547.5 L881.8 549 L883.1 550.3 L884.4 551.4 L885.7 554.4 L887 546.7 L888.3 549.5 L889.6 547.2 L890.9 548.6 L892.2 544.8 L893.5 544.4 L894.8 544 L896.1 542.3 L897.4 539.4 L898.6 539.8 L899.9 537.9 L901.2 538 L902.5 534.9 L903.8 536.1 L905.1 536.8 L906.4 537.6 L907.7 540.6 L909 541.9 L910.3 542.3 L911.6 538.1 L912.8 537.6 L914.1 537.9 L915.4 534.2 L916.7 534.3 L918 534.4 L919.3 535.5 L920.6 536.1 L921.8 536.5 L923.1 534.7 L924.4 534.6 L925.7 536.9 L927 534.8 L928.3 535.4 L929.6 535.7 L930.9 538.8 L932.2 544.8 L933.5 548.2 L934.8 549.3 L936.1 549.7 L937.4 554.2 L938.6 553.8 L939.9 558.8 L941.2 559.7 L942.5 558.1 L943.8 558.1 L945.1 553.7 L946.4 550.3 L947.7 548.4 L949 551.5 L950.3 552.6 L951.6 556.3 L952.9 553.1 L954.2 550.5 L955.4 539.9 L956.7 538.2 L958 542 L959.3 550.6 L960.6 558.7 L961.9 558.8 L963.2 563.3 L964.5 570.2 L965.8 569.4 L967.1 574.6 L968.3 569.3 L969.6 582.2 L970.9 570.7 L972.2 561.1 L973.5 552.5 L974.8 560 L976.1 573.3 L977.4 579.4 L978.7 584 L980 594.6 L981.3 589.2 L982.6 588.2 L983.8 578.2 L985.1 579.8 L986.4 572.6 L987.7 568.6 L989 567.2 L990.3 562.6 L991.6 572.6 L992.9 576.8 L994.2 584.5 L995.3 592.7 L996.4 587.9 L997.5 596.7 L998.6 596.2 L999.8 593.3 L1000.9 594.5 L1002.1 590.8 L1003.2 582.4 L1004.5 585.3 L1005.8 581.5 L1007.1 587.2 L1008.4 590 L1009.7 589.8 L1011 591.6 L1012.3 593.1 L1013.6 582.3 L1014.8 576.9 L1016.1 570 L1017.4 570 L1018.7 560.2 L1020 554.5 L1021.3 554.1 L1022.6 551.5 L1023.9 551.9 L1025.2 548.2 L1026.5 557.2 L1027.8 559.4 L1029.1 562.7 L1030.4 565.9 L1031.6 568.1 L1032.9 572.5 L1034.2 572.2 L1035.5 561.7 L1036.8 555.8 L1038.1 554 L1039.4 553.5 L1040.7 546.8 L1041.9 546.2 L1043.2 543.5 L1044.5 543.3 L1045.8 542.4 L1047.1 539 L1048.4 537.1 L1049.7 538.3 L1051 540.1 L1052.3 535 L1053.6 535.4 L1054.9 539.5 L1056.2 538.2 L1057.4 537.9 L1058.7 536.8 L1060 537.3 L1061.3 537.2 L1062.6 538.8 L1063.9 539.4 L1065.2 535.1 L1066.5 536.9 L1067.8 538.6 L1069.1 536.3 L1070.4 534.6 L1071.7 536.7 L1073 537.9 L1074.3 535 L1075.5 540 L1076.8 539.6 L1078.1 539.5 L1079.4 540.8 L1080.8 539.4 L1082.1 537.6 L1083.5 539.1 L1084.8 536 L1086.2 533.7 L1087.5 535.8 L1088.8 535.3 L1090.1 534.7 L1091.3 538.8 L1092.6 537.6 L1093.9 536.3 L1095.2 536.2 L1096.5 535.7 L1097.9 538.7 L1099.3 543.1 L1100.7 548 L1102 548.2 L1103.2 546.6 L1104.5 544.4 L1105.8 542.8 L1107.1 546.9 L1108.4 549.7 L1109.7 551.2 L1111 556.6 L1112.3 558.3 L1113.6 556.9 L1114.9 557.9 L1116.2 554.8 L1117.4 551.5 L1118.6 554 L1119.8 548.9 L1121 548.6 L1122.2 546.2 L1123.4 544.7 L1124.6 542.8 L1125.8 540.9 L1127 537.6 L1128.1 541.7 L1129.3 537.7 L1130.5 539.9 L1131.7 535.2 L1132.9 536.7 L1134.2 536 L1135.4 539.5 L1136.7 535.7 L1137.9 535.7 L1139.3 536.5 L1140.6 538.6 L1142 539.3 L1143.2 536 L1144.5 539.1 L1145.7 538.7 L1147 535.2 L1148.2 533.3 L1149.5 535.4 L1150.8 533.5 L1152.1 533.6 L1153.3 534.9 L1154.6 533.8 L1155.9 533.8 L1157.2 535.2 L1158.5 534.8 L1159.7 535.9 L1161 535.1 L1162.2 536 L1163.5 539.5 L1164.7 536.9 L1165.9 536.4 L1167.1 539.5 L1168.3 538.5 L1169.4 536 L1170.6 534.7 L1171.8 535.1 L1173 534.2 L1174.2 534.4 L1175.3 535.4 L1176.5 535.1 L1177.7 534 L1178.9 534.6 L1180 534.2 L1181.2 534.1 L1182.5 536.5 L1183.8 536 L1185.1 537.8 L1186.4 541.2 L1187.7 542.3 L1189 537.8 L1190.3 538.1 L1191.6 535 L1193.2 537.4 L1194.7 540.8 L1196.1 547.5 L1197.4 556.6 L1198.6 552 L1199.7 546.6 L1200.9 541.9 L1202.1 539.2 L1203.4 537.9 L1204.6 533.9 L1206 549.9 L1207.4 557.7 L1208.8 561.6 L1210.2 564.9 L1211.5 564.1 L1212.8 558.4 L1214 550.3 L1215.3 550 L1216.6 555 L1217.9 556.8 L1219.2 559.8 L1220.5 566.9 L1221.5 560.9 L1222.6 552.8 L1224 558.4 L1225.3 563.6 L1226.7 570.1 L1228.1 567 L1229.4 566.2 L1230.8 559.1 L1232.1 557.8 L1233.4 560 L1234.7 555.5 L1236 553.2 L1237.3 554.4 L1238.7 550.6 L1240 550 L1241.3 548.8 L1242.6 548.9 L1244 551.8 L1245.3 551.5 L1246.5 551.5 L1247.8 552.2 L1249 555.5 L1250.3 557.2 L1251.5 557.4 L1252.8 555.5 L1254.2 560.7 L1255.5 558.3 L1256.8 567.2 L1258.1 566.8 L1259.5 569.6 L1260.8 575.1 L1262 575.7 L1263.2 571.9 L1264.4 569.7 L1265.6 567.9 L1266.8 564.5 L1268 564.4 L1269.4 569.6 L1270.7 563.7 L1272.1 565.9 L1273.3 564.8 L1274.6 564.4 L1275.8 562.1 L1277.1 556.2 L1278.3 556.1 L1279.5 554.2 L1280.8 550.9 L1282 552 L1283.3 549.5 L1284.5 549.5 L1285.7 550.1 L1287 548.4 L1288.2 550.3 L1289.5 549.9 L1290.7 550.6 L1291.9 551.9 L1293 556.8 L1294.2 555.7 L1295.3 554.8 L1296.5 559.7 L1297.8 560.1 L1299.1 560.9 L1300.5 552.7 L1301.8 552.2 L1303.1 550.8 L1304.3 546.5 L1305.6 547.5 L1306.8 544.6 L1308.1 542.9 L1309.3 541.4 L1310.5 538.6 L1311.8 538.8 L1313 538.1 L1314.3 536.4 L1315.5 534.4 L1316.7 537 L1318 535.6 L1319.2 534.7 L1320.5 536.7 L1321.7 536.5 L1322.9 536 L1324.2 539.4 L1325.4 538.2 L1326.7 537.1 L1327.9 535.8 L1329.1 535.5 L1330.3 536.1 L1331.5 535.3 L1332.6 534.9 L1333.8 535.3 L1335 535.8 L1336.2 533.8 L1337.4 535.4 L1338.6 536.9 L1339.8 539.4 L1341 536 L1342.2 538.7 L1343.4 539.3 L1344.7 538.4 L1346 537.3 L1347.3 535 L1348.6 533.7 L1349.8 537.3 L1351 538.1 L1352.2 538.1 L1353.3 541.1 L1354.5 537.6 L1355.7 536.4 L1356.9 537.7 L1358.1 534.9 L1359.4 536.9 L1360.6 535.4 L1361.9 535.4 L1363.1 534.1 L1364.3 538 L1365.5 536.2 L1366.7 535.6 L1367.9 534.3 L1369.1 534.7 L1370.3 533.7 L1371.5 535.6 L1372.7 534.6 L1373.9 533.7 L1375.1 534.5 L1376.3 534.8 L1377.5 534.1 L1378.8 536.4 L1380.1 534.5 L1381.4 534.9 L1382.7 537.1 L1384 535.9 L1385.3 535.9 L1386.6 536.4 L1387.9 535.7 L1389.3 537.3 L1390.6 537.2 L1392 541.6 L1393.3 541.5 L1394.5 537.5 L1395.8 537.9 L1397.1 534.5 L1398.4 534.2 L1399.8 536.3 L1401.1 536.2 L1402.4 536.7 L1403.7 536.6 L1405.1 537.1 L1406.4 537 L1407.6 540.7 L1408.9 537.9 L1410.1 536.3 L1411.4 536.6 L1412.6 534.3 L1413.8 533.8 L1415 537.8 L1416.2 535.5 L1417.4 539.1 L1418.6 534.2 L1419.8 536.9 L1421.1 534.4 L1422.3 535.1 L1423.5 534.9 L1424.7 535.4 L1425.9 534.5 L1427.1 534.3 L1428.4 537.3 L1429.7 536.7 L1431 539.2 L1432.3 539.8 L1433.6 540.2 L1434.8 534.8 L1436.1 536.3 L1437.4 534.2 L1438.8 538.3 L1440.2 537.9 L1441.6 537.6 L1442.9 538.2 L1444.2 545.6 L1445.4 545.8 L1446.7 546.3 L1448.1 542.3 L1449.5 537.3 L1450.9 535.6 L1452.2 535.5 L1453.6 538.8 L1454.9 535.4 L1456.2 537 L1457.5 535.3 L1458.9 536.4 L1460.2 535.7 L1461.5 537.7 L1462.8 539.6 L1464 540 L1465.3 543.4 L1466.6 544.8 L1467.8 542.5 L1468.9 539.3 L1470.1 536.8 L1471.2 536.6 L1472.4 534.5 L1473.7 540.2 L1474.9 536.3 L1476.2 540.6 L1477.4 540.7 L1478.5 537.9 L1479.7 539.6 L1480.8 538.4 L1482 536.7 L1483.1 535.2 L1484.3 534.9 L1485.6 534.6 L1486.8 537.4 L1488.1 536.3 L1489.3 536.7 L1490.6 534.8 L1491.8 538.2 L1493.1 535.5 L1494.3 536.1 L1495.4 537.3 L1496.6 538 L1497.8 538.4 L1499 540.1 L1500.1 538 L1501.3 540.1 L1502.5 542.6 L1503.8 543.1 L1505 542.4 L1506.3 540.5 L1507.5 544.9 L1508.8 544.5 L1509.9 545.9 L1511 543.2 L1512.1 547.1 L1513.7 564.8 L1514.8 559.5 L1515.9 559.2 L1517 556.7 L1518.4 555.7 L1519.8 553.6 L1521.2 556.3 L1522.6 548.3 L1523.9 548.2 L1525.3 547.5 L1526.5 550.8 L1527.8 554.8 L1528.9 558.8 L1530 562 L1531.1 561.5 L1532.3 566.3 L1533.5 565 L1534.8 567.5 L1536 564.2 L1537.2 565.1 L1538.5 568.4 L1539.8 568.9 L1541 564.9 L1542.2 562.5 L1543.5 561.7 L1544.8 558.7 L1546 559.6 L1547.1 553.3 L1548.2 550.8 L1549.3 545.2 L1550.5 539.6 L1551.7 538.4 L1553.1 536.4 L1554.5 535.5 L1555.9 535.3 L1557.1 535.1 L1558.3 540.3 L1559.6 535.2 L1560.8 537.2 L1562.2 537.2 L1563.6 537.6 L1565 535.8 L1566.2 536.6 L1567.4 540.4 L1568.7 544.3 L1569.9 551.8 L1571.3 549.1 L1572.6 548.4 L1574 544.1 L1575.1 547.4 L1576.3 547.4 L1577.4 549.9 L1578.6 557 L1579.8 560.5 L1580.9 554.6 L1582 547.1 L1583.1 544.7 L1584.3 544.9 L1585.4 541.5 L1586.6 541.3 L1587.7 537.6 L1588.9 538.6 L1590.2 539.1 L1591.5 539.6 L1592.9 536.7 L1594.2 539.8 L1595.5 535.9 L1596.7 538.8 L1597.9 536.2 L1599.1 539.5 L1600.2 536.2 L1601.4 535.9 L1602.6 537.7 L1603.8 535.9 L1605.1 535.8 L1606.4 535 L1607.8 534.9 L1609.1 536.2 L1610.4 533.5 L1611.6 535.2 L1612.8 538.6 L1614 540.2 L1615.1 537.3 L1616.3 539.2 L1617.5 536.9 L1618.7 537.8 L1620 537.7 L1621.3 538.2 L1622.7 537.1 L1624 536.5 L1625.3 535 L1626.6 535.6 L1627.9 535.1 L1629.3 534.4 L1630.6 534.3 L1631.9 533.8 L1633.1 534.2 L1634.4 535.6 L1635.6 538.8 L1636.8 536.2 L1638.1 539.4 L1639.3 535.4 L1640.6 536.6 L1641.8 535.7 L1643 536.3 L1644.2 535.8 L1645.4 535.3 L1646.5 535.3 L1647.7 535.9 L1648.9 539 L1650.1 534.5 L1651.3 535 L1652.6 535.7 L1653.8 535.1 L1655 535.1 L1656.3 536.3 L1657.5 536.8 L1658.8 537.9 L1660 534.9 L1661.2 535.3 L1662.4 537.5 L1663.6 538.6 L1664.7 538.1 L1665.9 539.1 L1667.1 538.4 L1668.3 537.3 L1669.6 535.7 L1670.9 536.8 L1672.3 538.1 L1673.6 535.6 L1674.9 534.1 L1676.2 538.5 L1677.5 534.8 L1678.7 535 L1680 535.5 L1681.3 536 L1682.6 535.6 L1683.8 534.7 L1685.1 535.4 L1686.4 534.3 L1687.7 534.8 L1689 533.6 L1690.3 533.4 L1691.6 533.9 L1692.8 535.6 L1694.1 534.9 L1695.4 534.6 L1696.7 533.4 L1698 533.8 L1699.2 533.5 L1700.3 535.9 L1701.5 536.6 L1702.6 535.1 L1703.8 534.6 L1705.5 553.1 L1706.9 547.6 L1708.2 543.4 L1709.6 541.2 L1710.7 539.2 L1711.8 541.9 L1712.9 540.3 L1714 543.1 L1715.1 547.2 L1716.2 552.7 L1717.6 547.9 L1718.9 551.9 L1720.3 546.8 L1721.5 547.3 L1722.6 546.4 L1723.8 551.1 L1724.9 550 L1726.1 549.7 L1727.3 549 L1728.6 547 L1729.8 548.6 L1731.1 545.1 L1732.2 543.9 L1733.3 542.6 L1734.4 540.6 L1735.5 542.5 L1736.6 543.5 L1737.7 544.6 L1738.9 548.3 L1740.2 542 L1741.4 539.9 L1742.6 542.4 L1743.8 545.1 L1745.1 543 L1746.3 539.2 L1747.6 539.4 L1749 537.7 L1750.3 540.4 L1751.7 535 L1753.1 535.6 L1754.5 537.7 L1755.9 535.6" stroke="#e9372c" stroke-width="3.0"/>
</g>
<g clip-path="url(#cp2)" fill="none">
<path d="M210.6 701.6 V755.2" stroke="#e9372c" stroke-width="1.6"/>
<path d="M310.7 701.6 V744.4" stroke="#e9372c" stroke-width="3"/>
<path d="M314.8 701.6 V753.1" stroke="#e9372c" stroke-width="3.2"/>
<path d="M365 701.6 V749" stroke="#e9372c" stroke-width="3.2"/>
<path d="M385.1 701.6 V751.2" stroke="#e9372c" stroke-width="3.2"/>
<path d="M388.6 701.6 V752.4" stroke="#e9372c" stroke-width="3.4"/>
<path d="M429.6 701.6 V740.7" stroke="#e9372c" stroke-width="3.4"/>
<path d="M432.2 701.6 V739.7" stroke="#e9372c" stroke-width="3.4"/>
<path d="M450.2 701.6 V746.9" stroke="#e9372c" stroke-width="3"/>
<path d="M496.7 701.6 V743.4" stroke="#e9372c" stroke-width="3.4"/>
<path d="M508.5 701.6 V746.9" stroke="#e9372c" stroke-width="3.4"/>
<path d="M528.6 701.6 V732" stroke="#e9372c" stroke-width="3"/>
<path d="M549.1 701.6 V738.8" stroke="#e9372c" stroke-width="3.2"/>
<path d="M600.8 701.6 V738.8" stroke="#e9372c" stroke-width="3"/>
<path d="M665 701.6 V731.1" stroke="#e9372c" stroke-width="3"/>
<path d="M678.6 701.6 V727.3" stroke="#e9372c" stroke-width="3"/>
<path d="M756.6 701.6 V726.5" stroke="#e9372c" stroke-width="3"/>
<path d="M777.7 701.6 V705.7" stroke="#e9372c" stroke-width="2"/>
<path d="M816.4 701.6 V731.1" stroke="#e9372c" stroke-width="3"/>
<path d="M835 701.6 V726.5" stroke="#e9372c" stroke-width="3"/>
<path d="M990.4 701.6 V715.6" stroke="#e9372c" stroke-width="3.4"/>
<path d="M993.4 701.6 V715.6" stroke="#e9372c" stroke-width="3.4"/>
<path d="M1011.7 701.6 V716.6" stroke="#e9372c" stroke-width="2.8"/>
<path d="M1028.4 701.6 V716.6" stroke="#e9372c" stroke-width="2.8"/>
<path d="M1068.7 701.6 V717.2" stroke="#e9372c" stroke-width="3"/>
<path d="M1106.8 701.6 V714.7" stroke="#e9372c" stroke-width="2.8"/>
<path d="M1113 701.6 V712.5" stroke="#e9372c" stroke-width="2.8"/>
<path d="M1130.7 701.6 V714.7" stroke="#e9372c" stroke-width="3"/>
<path d="M1146.8 701.6 V713.5" stroke="#e9372c" stroke-width="3"/>
<path d="M1204 701.6 V710.4" stroke="#e9372c" stroke-width="3.2"/>
<path d="M1207 701.6 V710.4" stroke="#e9372c" stroke-width="3.2"/>
<path d="M1212 701.6 V712.5" stroke="#e9372c" stroke-width="3.2"/>
<path d="M1215 701.6 V712.5" stroke="#e9372c" stroke-width="3.2"/>
<path d="M1237 701.6 V711" stroke="#e9372c" stroke-width="2.8"/>
<path d="M1304.2 701.6 V716.6" stroke="#e9372c" stroke-width="2.4"/>
<path d="M1381.7 701.6 V711" stroke="#e9372c" stroke-width="2.4"/>
<path d="M1460.4 701.6 V711" stroke="#e9372c" stroke-width="2.4"/>
<path d="M1566.7 701.6 V710.4" stroke="#e9372c" stroke-width="2.4"/>
<path d="M1617.2 701.6 V711" stroke="#e9372c" stroke-width="2.4"/>
<path d="M1665.2 701.6 V705.6" stroke="#e9372c" stroke-width="2"/>
<path d="M1694.7 701.6 V708.5" stroke="#e9372c" stroke-width="2.2"/>
<path d="M210 701.6 H1756" stroke="#e9372c" stroke-width="3.6"/>
</g>
<g clip-path="url(#cp3)" fill="none">
<path d="M210.4 1022 V1002.3 M237 1002.3 V1001.6 M257 1001.6 V999.3 M272 999.3 V1116.6 M311 1116.6 V1006 M312.4 1006 V1116.6 M313.8 1116.6 V1004.5 M364.4 1004.5 V1021.5 M365.6 1021.5 V1006 M384.4 1006 V1116.6 M385.4 1116.6 V1006 M386.4 1006 V1116.6 M387.4 1116.6 V1006 M403 1006 V1003.8 M419.8 1003.8 V1116.6 M429.2 1116.6 V1009 M430.4 1009 V1116.6 M431.6 1116.6 V1009 M432.8 1009 V1116.6 M450.2 1116.6 V1006 M484.3 1006 V1116.6 M495.9 1116.6 V1008.2 M497.5 1008.2 V1116.6 M507.7 1116.6 V1006.9 M509.3 1006.9 V1116.6 M527.9 1116.6 V1011.6 M529.4 1011.6 V1116.6 M548.8 1116.6 V1010 M587 1010 V1007.5 M600.2 1007.5 V1021.5 M601.3 1021.5 V1009.7 M653.8 1009.7 V1116.6 M664.7 1116.6 V1013.7 M678.2 1013.7 V1021.5 M679.3 1021.5 V1013.7 M690 1013.7 V1014.7 M714.8 1014.7 V1012.2 M756.2 1012.2 V1021.5 M757.4 1021.5 V1014.7 M793.8 1014.7 V1012.2 M802.5 1012.2 V1116.6 M816.4 1116.6 V1013.7 M834.6 1013.7 V1021.5 M835.8 1021.5 V1013.7 M882 1013.7 V1012.2 M893 1012.2 V1116.6 M990.4 1116.6 V1017.8 M991.8 1017.8 V1116.6 M993.2 1116.6 V1017.8 M997.7 1017.8 V1116.6 M1012.3 1116.6 V1016.8 M1026.6 1016.8 V1116.6 M1028 1116.6 V1016.8 M1068.4 1016.8 V1021.5 M1069.4 1021.5 V1016.8 M1089.6 1016.8 V1015.3 M1100.6 1015.3 V1116.6 M1105.9 1116.6 V1017.8 M1108.4 1017.8 V1116.6 M1111.6 1116.6 V1017.8 M1112.8 1017.8 V1116.6 M1114 1116.6 V1017.8 M1115.2 1017.8 V1116.6 M1130.7 1116.6 V1016.8 M1146.4 1016.8 V1021.5 M1147.4 1021.5 V1016.8 M1196.7 1016.8 V1116.6 M1203.6 1116.6 V1017.8 M1205.2 1017.8 V1116.6 M1206.8 1116.6 V1017.8 M1208.2 1017.8 V1116.6 M1211.4 1116.6 V1017.8 M1213 1017.8 V1116.6 M1214.8 1116.6 V1017.8 M1222.4 1017.8 V1116.6 M1237.6 1116.6 V1019.3 M1304 1019.3 V1023 M1305.2 1023 V1017.8 M1381.2 1017.8 V1023 M1382.4 1023 V1019.3 M1406 1019.3 V1017.8 M1460 1017.8 V1023 M1461.2 1023 V1019.3 M1495.4 1019.3 V1017.8 M1514.9 1017.8 V1116.6 M1565.7 1116.6 V1020.2 M1599 1020.2 V1017.8 M1616.6 1017.8 V1023 M1617.8 1023 V1019.9 M1694.4 1019.9 V1023 M1695.6 1023 V1020.2" stroke="#c1281e" stroke-width="2.2" stroke-opacity="0.8"/>
<path d="M270.9 1116.6 H312.1 M311.3 1116.6 H314.9 M383.3 1116.6 H386.5 M385.3 1116.6 H388.5 M418.7 1116.6 H430.3 M429.3 1116.6 H432.7 M431.7 1116.6 H451.3 M483.2 1116.6 H497 M496.4 1116.6 H508.8 M508.2 1116.6 H529 M528.3 1116.6 H549.9 M652.7 1116.6 H665.8 M801.4 1116.6 H817.5 M891.9 1116.6 H991.5 M990.7 1116.6 H994.3 M996.6 1116.6 H1013.4 M1025.5 1116.6 H1029.1 M1099.5 1116.6 H1107 M1107.3 1116.6 H1112.7 M1111.7 1116.6 H1115.1 M1114.1 1116.6 H1131.8 M1195.6 1116.6 H1204.7 M1204.1 1116.6 H1207.9 M1207.1 1116.6 H1212.5 M1211.9 1116.6 H1215.9 M1221.3 1116.6 H1238.7 M1513.8 1116.6 H1566.8" stroke="#c1281e" stroke-width="2.5"/>
<path d="M209.3 1002.3 H238.1 M235.9 1001.6 H258.1 M255.9 999.3 H273.1 M309.9 1006 H313.5 M312.7 1004.5 H365.5 M363.3 1021.5 H366.7 M364.5 1006 H385.5 M384.3 1006 H387.5 M386.3 1006 H404.1 M401.9 1003.8 H420.9 M428.1 1009 H431.5 M430.5 1009 H433.9 M449.1 1006 H485.4 M494.8 1008.2 H498.6 M506.6 1006.9 H510.4 M526.8 1011.6 H530.5 M547.7 1010 H588.1 M585.9 1007.5 H601.3 M599.1 1021.5 H602.4 M600.2 1009.7 H654.9 M663.6 1013.7 H679.3 M677.1 1021.5 H680.4 M678.2 1013.7 H691.1 M688.9 1014.7 H715.9 M713.7 1012.2 H757.3 M755.1 1021.5 H758.5 M756.3 1014.7 H794.9 M792.7 1012.2 H803.6 M815.3 1013.7 H835.7 M833.5 1021.5 H836.9 M834.7 1013.7 H883.1 M880.9 1012.2 H894.1 M989.3 1017.8 H992.9 M992.1 1017.8 H998.8 M1011.2 1016.8 H1027.7 M1026.9 1016.8 H1069.5 M1067.3 1021.5 H1070.5 M1068.3 1016.8 H1090.7 M1088.5 1015.3 H1101.7 M1104.8 1017.8 H1109.5 M1110.5 1017.8 H1113.9 M1112.9 1017.8 H1116.3 M1129.6 1016.8 H1147.5 M1145.3 1021.5 H1148.5 M1146.3 1016.8 H1197.8 M1202.5 1017.8 H1206.3 M1205.7 1017.8 H1209.3 M1210.3 1017.8 H1214.1 M1213.7 1017.8 H1223.5 M1236.5 1019.3 H1305.1 M1302.9 1023 H1306.3 M1304.1 1017.8 H1382.3 M1380.1 1023 H1383.5 M1381.3 1019.3 H1407.1 M1404.9 1017.8 H1461.1 M1458.9 1023 H1462.3 M1460.1 1019.3 H1496.5 M1494.3 1017.8 H1516 M1564.6 1020.2 H1600.1 M1597.9 1017.8 H1617.7 M1615.5 1023 H1618.9 M1616.7 1019.9 H1695.5 M1693.3 1023 H1696.7 M1694.5 1020.2 H1756" stroke="#c1281e" stroke-width="3.2"/>
</g>
<path d="M199.8 78.7 V500.8" stroke="#cacaca" stroke-width="2" fill="none"/>
<path d="M195.2 473.1 H199.8" stroke="#cacaca" stroke-width="1.6" fill="none"/>
<path d="M195.2 434 H199.8" stroke="#cacaca" stroke-width="1.6" fill="none"/>
<path d="M195.2 394.9 H199.8" stroke="#cacaca" stroke-width="1.6" fill="none"/>
<path d="M195.2 355.9 H199.8" stroke="#cacaca" stroke-width="1.6" fill="none"/>
<path d="M195.2 316.8 H199.8" stroke="#cacaca" stroke-width="1.6" fill="none"/>
<path d="M195.2 277.7 H199.8" stroke="#cacaca" stroke-width="1.6" fill="none"/>
<path d="M195.2 238.6 H199.8" stroke="#cacaca" stroke-width="1.6" fill="none"/>
<path d="M195.2 199.5 H199.8" stroke="#cacaca" stroke-width="1.6" fill="none"/>
<path d="M195.2 160.5 H199.8" stroke="#cacaca" stroke-width="1.6" fill="none"/>
<path d="M195.2 121.4 H199.8" stroke="#cacaca" stroke-width="1.6" fill="none"/>
<path d="M195.2 81.6 H199.8" stroke="#cacaca" stroke-width="1.6" fill="none"/>
<path d="M199.8 531.8 V657.4" stroke="#cacaca" stroke-width="2" fill="none"/>
<path d="M195.2 533.3 H199.8" stroke="#cacaca" stroke-width="1.6" fill="none"/>
<path d="M195.2 572.5 H199.8" stroke="#cacaca" stroke-width="1.6" fill="none"/>
<path d="M195.2 611.8 H199.8" stroke="#cacaca" stroke-width="1.6" fill="none"/>
<path d="M195.2 651 H199.8" stroke="#cacaca" stroke-width="1.6" fill="none"/>
<path d="M199.8 688.4 V963.2" stroke="#cacaca" stroke-width="2" fill="none"/>
<path d="M195.2 961.7 H199.8" stroke="#cacaca" stroke-width="1.6" fill="none"/>
<path d="M195.2 909.8 H199.8" stroke="#cacaca" stroke-width="1.6" fill="none"/>
<path d="M195.2 857.8 H199.8" stroke="#cacaca" stroke-width="1.6" fill="none"/>
<path d="M195.2 805.9 H199.8" stroke="#cacaca" stroke-width="1.6" fill="none"/>
<path d="M195.2 753.9 H199.8" stroke="#cacaca" stroke-width="1.6" fill="none"/>
<path d="M195.2 702 H199.8" stroke="#cacaca" stroke-width="1.6" fill="none"/>
<path d="M199.8 993.8 V1119.2" stroke="#cacaca" stroke-width="2" fill="none"/>
<path d="M195.2 1117.3 H199.8" stroke="#cacaca" stroke-width="1.6" fill="none"/>
<path d="M195.2 1069.3 H199.8" stroke="#cacaca" stroke-width="1.6" fill="none"/>
<path d="M195.2 1021.3 H199.8" stroke="#cacaca" stroke-width="1.6" fill="none"/>
<path d="M1766 78.7 V500.8" stroke="#cacaca" stroke-width="2" fill="none"/>
<path d="M1766 499.6 H1770.6" stroke="#cacaca" stroke-width="1.6" fill="none"/>
<path d="M1766 459.3 H1770.6" stroke="#cacaca" stroke-width="1.6" fill="none"/>
<path d="M1766 419.1 H1770.6" stroke="#cacaca" stroke-width="1.6" fill="none"/>
<path d="M1766 378.8 H1770.6" stroke="#cacaca" stroke-width="1.6" fill="none"/>
<path d="M1766 338.5 H1770.6" stroke="#cacaca" stroke-width="1.6" fill="none"/>
<path d="M1766 298.2 H1770.6" stroke="#cacaca" stroke-width="1.6" fill="none"/>
<path d="M1766 258 H1770.6" stroke="#cacaca" stroke-width="1.6" fill="none"/>
<path d="M1766 217.7 H1770.6" stroke="#cacaca" stroke-width="1.6" fill="none"/>
<path d="M1766 177.4 H1770.6" stroke="#cacaca" stroke-width="1.6" fill="none"/>
<path d="M1766 137.2 H1770.6" stroke="#cacaca" stroke-width="1.6" fill="none"/>
<path d="M1766 96.9 H1770.6" stroke="#cacaca" stroke-width="1.6" fill="none"/>
<path d="M1766 688.4 V963.2" stroke="#cacaca" stroke-width="2" fill="none"/>
<path d="M1766 961.5 H1770.6" stroke="#cacaca" stroke-width="1.6" fill="none"/>
<path d="M1766 909.5 H1770.6" stroke="#cacaca" stroke-width="1.6" fill="none"/>
<path d="M1766 857.5 H1770.6" stroke="#cacaca" stroke-width="1.6" fill="none"/>
<path d="M1766 805.5 H1770.6" stroke="#cacaca" stroke-width="1.6" fill="none"/>
<path d="M1766 753.5 H1770.6" stroke="#cacaca" stroke-width="1.6" fill="none"/>
<path d="M1766 701.5 H1770.6" stroke="#cacaca" stroke-width="1.6" fill="none"/>
<path d="M198.8 1128.6 H1767" stroke="#cacaca" stroke-width="2" fill="none"/>
<path d="M199.7 1128.6 V1133.4" stroke="#cacaca" stroke-width="1.6" fill="none"/>
<path d="M279.1 1128.6 V1133.4" stroke="#cacaca" stroke-width="1.6" fill="none"/>
<path d="M358.4 1128.6 V1133.4" stroke="#cacaca" stroke-width="1.6" fill="none"/>
<path d="M437.8 1128.6 V1133.4" stroke="#cacaca" stroke-width="1.6" fill="none"/>
<path d="M517.2 1128.6 V1133.4" stroke="#cacaca" stroke-width="1.6" fill="none"/>
<path d="M596.5 1128.6 V1133.4" stroke="#cacaca" stroke-width="1.6" fill="none"/>
<path d="M675.9 1128.6 V1133.4" stroke="#cacaca" stroke-width="1.6" fill="none"/>
<path d="M755.3 1128.6 V1133.4" stroke="#cacaca" stroke-width="1.6" fill="none"/>
<path d="M834.7 1128.6 V1133.4" stroke="#cacaca" stroke-width="1.6" fill="none"/>
<path d="M914 1128.6 V1133.4" stroke="#cacaca" stroke-width="1.6" fill="none"/>
<path d="M993.4 1128.6 V1133.4" stroke="#cacaca" stroke-width="1.6" fill="none"/>
<path d="M1072.8 1128.6 V1133.4" stroke="#cacaca" stroke-width="1.6" fill="none"/>
<path d="M1152.1 1128.6 V1133.4" stroke="#cacaca" stroke-width="1.6" fill="none"/>
<path d="M1231.5 1128.6 V1133.4" stroke="#cacaca" stroke-width="1.6" fill="none"/>
<path d="M1310.9 1128.6 V1133.4" stroke="#cacaca" stroke-width="1.6" fill="none"/>
<path d="M1390.3 1128.6 V1133.4" stroke="#cacaca" stroke-width="1.6" fill="none"/>
<path d="M1469.6 1128.6 V1133.4" stroke="#cacaca" stroke-width="1.6" fill="none"/>
<path d="M1549 1128.6 V1133.4" stroke="#cacaca" stroke-width="1.6" fill="none"/>
<path d="M1628.4 1128.6 V1133.4" stroke="#cacaca" stroke-width="1.6" fill="none"/>
<path d="M1707.7 1128.6 V1133.4" stroke="#cacaca" stroke-width="1.6" fill="none"/>
<g font-family="'Liberation Sans', sans-serif" fill="#222222" stroke="#222222" stroke-width="0.35" font-size="20.6">
<text x="187.3" y="480.4" text-anchor="end" textLength="12.3" lengthAdjust="spacingAndGlyphs">0</text>
<text x="187.3" y="441.3" text-anchor="end" textLength="36.9" lengthAdjust="spacingAndGlyphs">100</text>
<text x="187.3" y="402.2" text-anchor="end" textLength="36.9" lengthAdjust="spacingAndGlyphs">200</text>
<text x="187.3" y="363.2" text-anchor="end" textLength="36.9" lengthAdjust="spacingAndGlyphs">300</text>
<text x="187.3" y="324.1" text-anchor="end" textLength="36.9" lengthAdjust="spacingAndGlyphs">400</text>
<text x="187.3" y="285" text-anchor="end" textLength="36.9" lengthAdjust="spacingAndGlyphs">500</text>
<text x="187.3" y="245.9" text-anchor="end" textLength="36.9" lengthAdjust="spacingAndGlyphs">600</text>
<text x="187.3" y="206.8" text-anchor="end" textLength="36.9" lengthAdjust="spacingAndGlyphs">700</text>
<text x="187.3" y="167.8" text-anchor="end" textLength="36.9" lengthAdjust="spacingAndGlyphs">800</text>
<text x="187.3" y="128.7" text-anchor="end" textLength="36.9" lengthAdjust="spacingAndGlyphs">900</text>
<text x="187.3" y="88.9" text-anchor="end" textLength="55.4" lengthAdjust="spacingAndGlyphs">1,000</text>
<text x="187.3" y="540.1" text-anchor="end" textLength="12.3" lengthAdjust="spacingAndGlyphs">0</text>
<text x="187.3" y="579.3" text-anchor="end" textLength="32" lengthAdjust="spacingAndGlyphs">-20</text>
<text x="187.3" y="618.6" text-anchor="end" textLength="32" lengthAdjust="spacingAndGlyphs">-40</text>
<text x="187.3" y="657.8" text-anchor="end" textLength="32" lengthAdjust="spacingAndGlyphs">-60</text>
<text x="187.3" y="968" text-anchor="end" textLength="12.3" lengthAdjust="spacingAndGlyphs">0</text>
<text x="187.3" y="916.1" text-anchor="end" textLength="24.6" lengthAdjust="spacingAndGlyphs">20</text>
<text x="187.3" y="864.1" text-anchor="end" textLength="24.6" lengthAdjust="spacingAndGlyphs">40</text>
<text x="187.3" y="812.2" text-anchor="end" textLength="24.6" lengthAdjust="spacingAndGlyphs">60</text>
<text x="187.3" y="760.2" text-anchor="end" textLength="24.6" lengthAdjust="spacingAndGlyphs">80</text>
<text x="187.3" y="708.3" text-anchor="end" textLength="36.9" lengthAdjust="spacingAndGlyphs">100</text>
<text x="187.3" y="1123.7" text-anchor="end" textLength="12.3" lengthAdjust="spacingAndGlyphs">0</text>
<text x="187.3" y="1075.7" text-anchor="end" textLength="24.6" lengthAdjust="spacingAndGlyphs">50</text>
<text x="187.3" y="1027.7" text-anchor="end" textLength="36.9" lengthAdjust="spacingAndGlyphs">100</text>
<text x="1778.2" y="506.9" textLength="12.3" lengthAdjust="spacingAndGlyphs">0</text>
<text x="1778.2" y="466.6" textLength="24.6" lengthAdjust="spacingAndGlyphs">10</text>
<text x="1778.2" y="426.4" textLength="24.6" lengthAdjust="spacingAndGlyphs">20</text>
<text x="1778.2" y="386.1" textLength="24.6" lengthAdjust="spacingAndGlyphs">30</text>
<text x="1778.2" y="345.8" textLength="24.6" lengthAdjust="spacingAndGlyphs">40</text>
<text x="1778.2" y="305.6" textLength="24.6" lengthAdjust="spacingAndGlyphs">50</text>
<text x="1778.2" y="265.3" textLength="24.6" lengthAdjust="spacingAndGlyphs">60</text>
<text x="1778.2" y="225" textLength="24.6" lengthAdjust="spacingAndGlyphs">70</text>
<text x="1778.2" y="184.7" textLength="24.6" lengthAdjust="spacingAndGlyphs">80</text>
<text x="1778.2" y="144.5" textLength="24.6" lengthAdjust="spacingAndGlyphs">90</text>
<text x="1778.2" y="104.2" textLength="36.9" lengthAdjust="spacingAndGlyphs">100</text>
<text x="1778.2" y="968.8" textLength="30.8" lengthAdjust="spacingAndGlyphs">0.0</text>
<text x="1778.2" y="916.8" textLength="30.8" lengthAdjust="spacingAndGlyphs">0.2</text>
<text x="1778.2" y="864.8" textLength="30.8" lengthAdjust="spacingAndGlyphs">0.4</text>
<text x="1778.2" y="812.8" textLength="30.8" lengthAdjust="spacingAndGlyphs">0.6</text>
<text x="1778.2" y="760.8" textLength="30.8" lengthAdjust="spacingAndGlyphs">0.8</text>
<text x="1778.2" y="708.8" textLength="30.8" lengthAdjust="spacingAndGlyphs">1.0</text>
<text x="200.3" y="1156.5" text-anchor="middle" textLength="53.6" lengthAdjust="spacingAndGlyphs">01/99</text>
<text x="279.7" y="1156.5" text-anchor="middle" textLength="53.6" lengthAdjust="spacingAndGlyphs">01/00</text>
<text x="359" y="1156.5" text-anchor="middle" textLength="53.6" lengthAdjust="spacingAndGlyphs">01/01</text>
<text x="438.4" y="1156.5" text-anchor="middle" textLength="53.6" lengthAdjust="spacingAndGlyphs">01/02</text>
<text x="517.8" y="1156.5" text-anchor="middle" textLength="53.6" lengthAdjust="spacingAndGlyphs">01/03</text>
<text x="597.1" y="1156.5" text-anchor="middle" textLength="53.6" lengthAdjust="spacingAndGlyphs">01/04</text>
<text x="676.5" y="1156.5" text-anchor="middle" textLength="53.6" lengthAdjust="spacingAndGlyphs">01/05</text>
<text x="755.9" y="1156.5" text-anchor="middle" textLength="53.6" lengthAdjust="spacingAndGlyphs">01/06</text>
<text x="835.3" y="1156.5" text-anchor="middle" textLength="53.6" lengthAdjust="spacingAndGlyphs">01/07</text>
<text x="914.6" y="1156.5" text-anchor="middle" textLength="53.6" lengthAdjust="spacingAndGlyphs">01/08</text>
<text x="994" y="1156.5" text-anchor="middle" textLength="53.6" lengthAdjust="spacingAndGlyphs">01/09</text>
<text x="1073.4" y="1156.5" text-anchor="middle" textLength="53.6" lengthAdjust="spacingAndGlyphs">01/10</text>
<text x="1152.7" y="1156.5" text-anchor="middle" textLength="53.6" lengthAdjust="spacingAndGlyphs">01/11</text>
<text x="1232.1" y="1156.5" text-anchor="middle" textLength="53.6" lengthAdjust="spacingAndGlyphs">01/12</text>
<text x="1311.5" y="1156.5" text-anchor="middle" textLength="53.6" lengthAdjust="spacingAndGlyphs">01/13</text>
<text x="1390.9" y="1156.5" text-anchor="middle" textLength="53.6" lengthAdjust="spacingAndGlyphs">01/14</text>
<text x="1470.2" y="1156.5" text-anchor="middle" textLength="53.6" lengthAdjust="spacingAndGlyphs">01/15</text>
<text x="1549.6" y="1156.5" text-anchor="middle" textLength="53.6" lengthAdjust="spacingAndGlyphs">01/16</text>
<text x="1629" y="1156.5" text-anchor="middle" textLength="53.6" lengthAdjust="spacingAndGlyphs">01/17</text>
<text x="1708.3" y="1156.5" text-anchor="middle" textLength="53.6" lengthAdjust="spacingAndGlyphs">01/18</text>
</g>
<g font-family="'Liberation Sans', sans-serif" fill="#222222" stroke="#222222" stroke-width="0.3" font-size="25.4" text-anchor="middle">
<text transform="translate(117 290.4) rotate(-90)" textLength="115.8" lengthAdjust="spacingAndGlyphs">% Return</text>
<text transform="translate(136.4 595.2) rotate(-90)" textLength="158" lengthAdjust="spacingAndGlyphs">% Drawdown</text>
<text transform="translate(135.8 825.8) rotate(-90)" textLength="207.5" lengthAdjust="spacingAndGlyphs">% Cash Invested</text>
<text transform="translate(136 1056.3) rotate(-90)" textLength="140.9" lengthAdjust="spacingAndGlyphs"># Positions</text>
<text transform="translate(1828.6 289.9) rotate(90)" textLength="111.8" lengthAdjust="spacingAndGlyphs">Hedge %</text>
<text transform="translate(1822.2 824.6) rotate(90)" textLength="115" lengthAdjust="spacingAndGlyphs">Leverage</text>
</g>
</g>
<text x="976" y="1196.2" text-anchor="middle" font-family="'Liberation Sans', sans-serif" font-size="19.6" fill="#555555" textLength="780" lengthAdjust="spacingAndGlyphs">© Portfolio123 | Data provided by S&amp;P Global Market Intelligence and ICE Data, LLP</text>
</svg>
</body></html>
